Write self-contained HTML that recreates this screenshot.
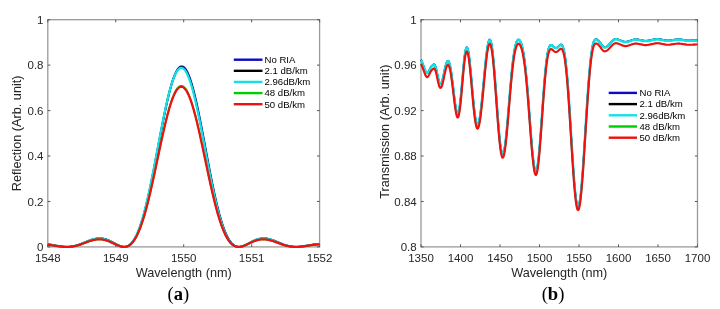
<!DOCTYPE html>
<html><head><meta charset="utf-8"><style>
html,body{margin:0;padding:0;background:#fff;}
body{width:720px;height:309px;overflow:hidden;}
svg{display:block;will-change:transform;}
.tl{font-family:"Liberation Sans",sans-serif;font-size:11.5px;fill:#262626;}
.al{font-family:"Liberation Sans",sans-serif;font-size:12.7px;fill:#262626;}
.lg{font-family:"Liberation Sans",sans-serif;font-size:9.6px;fill:#000;}
.cap{font-family:"Liberation Serif",serif;font-size:18.6px;fill:#000;}
.tk{stroke:#555;stroke-width:1;}
</style></head><body>
<svg width="720" height="309" viewBox="0 0 720 309">
<defs>
<clipPath id="ca"><rect x="47.8" y="19.7" width="271.8" height="227.20000000000002"/></clipPath>
<clipPath id="cb"><rect x="421.0" y="19.7" width="276.5" height="227.20000000000002"/></clipPath>
</defs>
<rect width="720" height="309" fill="#fff"/>
<rect x="47.8" y="19.7" width="271.8" height="227.20000000000002" fill="none" stroke="#9a9a9a" stroke-width="1.3"/>
<line x1="47.8" y1="246.9" x2="47.8" y2="244.3" class="tk"/><line x1="47.8" y1="19.7" x2="47.8" y2="22.3" class="tk"/>
<text x="47.8" y="262.2" text-anchor="middle" class="tl">1548</text>
<line x1="115.75" y1="246.9" x2="115.75" y2="244.3" class="tk"/><line x1="115.75" y1="19.7" x2="115.75" y2="22.3" class="tk"/>
<text x="115.75" y="262.2" text-anchor="middle" class="tl">1549</text>
<line x1="183.7" y1="246.9" x2="183.7" y2="244.3" class="tk"/><line x1="183.7" y1="19.7" x2="183.7" y2="22.3" class="tk"/>
<text x="183.7" y="262.2" text-anchor="middle" class="tl">1550</text>
<line x1="251.65000000000003" y1="246.9" x2="251.65000000000003" y2="244.3" class="tk"/><line x1="251.65000000000003" y1="19.7" x2="251.65000000000003" y2="22.3" class="tk"/>
<text x="251.65000000000003" y="262.2" text-anchor="middle" class="tl">1551</text>
<line x1="319.6" y1="246.9" x2="319.6" y2="244.3" class="tk"/><line x1="319.6" y1="19.7" x2="319.6" y2="22.3" class="tk"/>
<text x="319.6" y="262.2" text-anchor="middle" class="tl">1552</text>
<line x1="47.8" y1="246.9" x2="50.4" y2="246.9" class="tk"/><line x1="319.6" y1="246.9" x2="317.0" y2="246.9" class="tk"/>
<text x="43.5" y="251.20000000000002" text-anchor="end" class="tl">0</text>
<line x1="47.8" y1="201.46" x2="50.4" y2="201.46" class="tk"/><line x1="319.6" y1="201.46" x2="317.0" y2="201.46" class="tk"/>
<text x="43.5" y="205.76000000000002" text-anchor="end" class="tl">0.2</text>
<line x1="47.8" y1="156.01999999999998" x2="50.4" y2="156.01999999999998" class="tk"/><line x1="319.6" y1="156.01999999999998" x2="317.0" y2="156.01999999999998" class="tk"/>
<text x="43.5" y="160.32" text-anchor="end" class="tl">0.4</text>
<line x1="47.8" y1="110.58000000000001" x2="50.4" y2="110.58000000000001" class="tk"/><line x1="319.6" y1="110.58000000000001" x2="317.0" y2="110.58000000000001" class="tk"/>
<text x="43.5" y="114.88000000000001" text-anchor="end" class="tl">0.6</text>
<line x1="47.8" y1="65.13999999999999" x2="50.4" y2="65.13999999999999" class="tk"/><line x1="319.6" y1="65.13999999999999" x2="317.0" y2="65.13999999999999" class="tk"/>
<text x="43.5" y="69.43999999999998" text-anchor="end" class="tl">0.8</text>
<line x1="47.8" y1="19.69999999999999" x2="50.4" y2="19.69999999999999" class="tk"/><line x1="319.6" y1="19.69999999999999" x2="317.0" y2="19.69999999999999" class="tk"/>
<text x="43.5" y="23.99999999999999" text-anchor="end" class="tl">1</text>
<g fill="none" stroke-width="2" stroke-linejoin="round">
<path d="M47.80 244.36L48.3 244.4L48.8 244.5L49.3 244.6L49.8 244.6L50.3 244.7L50.8 244.8L51.3 244.8L51.8 244.9L52.3 245.0L52.8 245.1L53.3 245.2L53.8 245.3L54.3 245.4L54.8 245.4L55.3 245.5L55.8 245.6L56.3 245.7L56.8 245.8L57.3 245.9L57.8 246.0L58.3 246.1L58.8 246.1L59.3 246.2L59.8 246.3L60.3 246.4L60.8 246.4L61.3 246.5L61.8 246.6L62.3 246.6L62.8 246.7L63.3 246.7L63.8 246.8L64.3 246.8L64.8 246.8L65.3 246.9L65.8 246.9L66.3 246.9L66.8 246.9L67.3 246.9L67.8 246.9L68.3 246.9L68.8 246.9L69.3 246.8L69.8 246.8L70.3 246.8L70.8 246.7L71.3 246.6L71.8 246.6L72.3 246.5L72.8 246.4L73.3 246.3L73.8 246.2L74.3 246.1L74.8 246.0L75.3 245.9L75.8 245.8L76.3 245.6L76.8 245.5L77.3 245.3L77.8 245.2L78.3 245.0L78.8 244.9L79.3 244.7L79.8 244.5L80.3 244.3L80.8 244.2L81.3 244.0L81.8 243.8L82.3 243.6L82.8 243.4L83.3 243.2L83.8 243.0L84.3 242.8L84.8 242.5L85.3 242.3L85.8 242.1L86.3 241.9L86.8 241.7L87.3 241.5L87.8 241.3L88.3 241.1L88.8 240.9L89.3 240.7L89.8 240.5L90.3 240.3L90.8 240.2L91.3 240.0L91.8 239.8L92.3 239.7L92.8 239.5L93.3 239.4L93.8 239.2L94.3 239.1L94.8 239.0L95.3 238.9L95.8 238.8L96.3 238.7L96.8 238.6L97.3 238.5L97.8 238.5L98.3 238.4L98.8 238.4L99.3 238.4L99.8 238.4L100.3 238.4L100.8 238.4L101.3 238.4L101.8 238.5L102.3 238.6L102.8 238.6L103.3 238.7L103.8 238.8L104.3 238.9L104.8 239.0L105.3 239.2L105.8 239.3L106.3 239.5L106.8 239.7L107.3 239.9L107.8 240.0L108.3 240.2L108.8 240.5L109.3 240.7L109.8 240.9L110.3 241.2L110.8 241.4L111.3 241.7L111.8 241.9L112.3 242.2L112.8 242.4L113.3 242.7L113.8 243.0L114.3 243.2L114.8 243.5L115.3 243.8L115.8 244.0L116.3 244.3L116.8 244.6L117.3 244.8L117.8 245.1L118.3 245.3L118.8 245.5L119.3 245.7L119.8 245.9L120.3 246.1L120.8 246.3L121.3 246.4L121.8 246.6L122.3 246.7L122.8 246.8L123.3 246.8L123.8 246.9L124.3 246.9L124.8 246.9L125.3 246.9L125.8 246.8L126.3 246.7L126.8 246.6L127.3 246.4L127.8 246.2L128.3 246.0L128.8 245.7L129.3 245.4L129.8 245.0L130.3 244.6L130.8 244.2L131.3 243.7L131.8 243.1L132.3 242.6L132.8 241.9L133.3 241.3L133.8 240.5L134.3 239.8L134.8 238.9L135.3 238.1L135.8 237.1L136.3 236.2L136.8 235.1L137.3 234.0L137.8 232.9L138.3 231.7L138.8 230.5L139.3 229.1L139.8 227.8L140.3 226.4L140.8 224.9L141.3 223.4L141.8 221.8L142.3 220.2L142.8 218.5L143.3 216.7L143.8 215.0L144.3 213.1L144.8 211.2L145.3 209.3L145.8 207.3L146.3 205.3L146.8 203.2L147.3 201.0L147.8 198.9L148.3 196.6L148.8 194.4L149.3 192.1L149.8 189.7L150.3 187.4L150.8 185.0L151.3 182.5L151.8 180.0L152.3 177.5L152.8 175.0L153.3 172.5L153.8 169.9L154.3 167.3L154.8 164.7L155.3 162.0L155.8 159.4L156.3 156.7L156.8 154.1L157.3 151.4L157.8 148.7L158.3 146.1L158.8 143.4L159.3 140.7L159.8 138.1L160.3 135.4L160.8 132.8L161.3 130.2L161.8 127.6L162.3 125.0L162.8 122.4L163.3 119.9L163.8 117.4L164.3 114.9L164.8 112.5L165.3 110.1L165.8 107.7L166.3 105.4L166.8 103.1L167.3 100.9L167.8 98.7L168.3 96.6L168.8 94.6L169.3 92.5L169.8 90.6L170.3 88.7L170.8 86.9L171.3 85.1L171.8 83.4L172.3 81.8L172.8 80.3L173.3 78.8L173.8 77.4L174.3 76.1L174.8 74.8L175.3 73.7L175.8 72.6L176.3 71.6L176.8 70.7L177.3 69.9L177.8 69.1L178.3 68.5L178.8 67.9L179.3 67.4L179.8 67.0L180.3 66.7L180.8 66.5L181.3 66.4L181.8 66.4L182.3 66.5L182.8 66.6L183.3 66.9L183.8 67.2L184.3 67.6L184.8 68.1L185.3 68.7L185.8 69.4L186.3 70.2L186.8 71.0L187.3 72.0L187.8 73.0L188.3 74.1L188.8 75.3L189.3 76.6L189.8 77.9L190.3 79.4L190.8 80.9L191.3 82.5L191.8 84.1L192.3 85.8L192.8 87.6L193.3 89.5L193.8 91.4L194.3 93.3L194.8 95.4L195.3 97.5L195.8 99.6L196.3 101.8L196.8 104.0L197.3 106.3L197.8 108.7L198.3 111.0L198.8 113.5L199.3 115.9L199.8 118.4L200.3 120.9L200.8 123.4L201.3 126.0L201.8 128.6L202.3 131.2L202.8 133.8L203.3 136.5L203.8 139.1L204.3 141.8L204.8 144.5L205.3 147.1L205.8 149.8L206.3 152.5L206.8 155.1L207.3 157.8L207.8 160.5L208.3 163.1L208.8 165.7L209.3 168.3L209.8 170.9L210.3 173.5L210.8 176.0L211.3 178.5L211.8 181.0L212.3 183.5L212.8 185.9L213.3 188.3L213.8 190.7L214.3 193.0L214.8 195.3L215.3 197.5L215.8 199.7L216.3 201.9L216.8 204.0L217.3 206.1L217.8 208.1L218.3 210.1L218.8 212.0L219.3 213.9L219.8 215.7L220.3 217.4L220.8 219.2L221.3 220.8L221.8 222.4L222.3 224.0L222.8 225.5L223.3 226.9L223.8 228.3L224.3 229.7L224.8 231.0L225.3 232.2L225.8 233.4L226.3 234.5L226.8 235.5L227.3 236.6L227.8 237.5L228.3 238.4L228.8 239.3L229.3 240.1L229.8 240.8L230.3 241.5L230.8 242.2L231.3 242.8L231.8 243.4L232.3 243.9L232.8 244.3L233.3 244.8L233.8 245.2L234.3 245.5L234.8 245.8L235.3 246.1L235.8 246.3L236.3 246.5L236.8 246.6L237.3 246.7L237.8 246.8L238.3 246.9L238.8 246.9L239.3 246.9L239.8 246.9L240.3 246.8L240.8 246.7L241.3 246.6L241.8 246.5L242.3 246.4L242.8 246.2L243.3 246.0L243.8 245.8L244.3 245.6L244.8 245.4L245.3 245.2L245.8 245.0L246.3 244.7L246.8 244.5L247.3 244.2L247.8 243.9L248.3 243.7L248.8 243.4L249.3 243.1L249.8 242.9L250.3 242.6L250.8 242.3L251.3 242.1L251.8 241.8L252.3 241.6L252.8 241.3L253.3 241.1L253.8 240.8L254.3 240.6L254.8 240.4L255.3 240.2L255.8 240.0L256.3 239.8L256.8 239.6L257.3 239.4L257.8 239.3L258.3 239.1L258.8 239.0L259.3 238.9L259.8 238.8L260.3 238.7L260.8 238.6L261.3 238.5L261.8 238.5L262.3 238.4L262.8 238.4L263.3 238.4L263.8 238.4L264.3 238.4L264.8 238.4L265.3 238.4L265.8 238.5L266.3 238.6L266.8 238.6L267.3 238.7L267.8 238.8L268.3 238.9L268.8 239.0L269.3 239.1L269.8 239.3L270.3 239.4L270.8 239.6L271.3 239.7L271.8 239.9L272.3 240.0L272.8 240.2L273.3 240.4L273.8 240.6L274.3 240.8L274.8 241.0L275.3 241.2L275.8 241.4L276.3 241.6L276.8 241.8L277.3 242.0L277.8 242.2L278.3 242.4L278.8 242.6L279.3 242.8L279.8 243.0L280.3 243.2L280.8 243.4L281.3 243.6L281.8 243.8L282.3 244.0L282.8 244.2L283.3 244.4L283.8 244.6L284.3 244.8L284.8 244.9L285.3 245.1L285.8 245.3L286.3 245.4L286.8 245.6L287.3 245.7L287.8 245.8L288.3 245.9L288.8 246.1L289.3 246.2L289.8 246.3L290.3 246.4L290.8 246.5L291.3 246.5L291.8 246.6L292.3 246.7L292.8 246.7L293.3 246.8L293.8 246.8L294.3 246.8L294.8 246.9L295.3 246.9L295.8 246.9L296.3 246.9L296.8 246.9L297.3 246.9L297.8 246.9L298.3 246.8L298.8 246.8L299.3 246.8L299.8 246.7L300.3 246.7L300.8 246.6L301.3 246.6L301.8 246.5L302.3 246.5L302.8 246.4L303.3 246.3L303.8 246.3L304.3 246.2L304.8 246.1L305.3 246.0L305.8 245.9L306.3 245.8L306.8 245.8L307.3 245.7L307.8 245.6L308.3 245.5L308.8 245.4L309.3 245.3L309.8 245.2L310.3 245.1L310.8 245.1L311.3 245.0L311.8 244.9L312.3 244.8L312.8 244.7L313.3 244.7L313.8 244.6L314.3 244.5L314.8 244.5L315.3 244.4L315.8 244.3L316.3 244.3L316.8 244.2L317.3 244.2L317.8 244.1L318.3 244.1L318.8 244.1L319.3 244.0" stroke="#0a0ac8" stroke-width="2.0"/>
<path d="M47.80 244.39L48.3 244.5L48.8 244.5L49.3 244.6L49.8 244.7L50.3 244.7L50.8 244.8L51.3 244.9L51.8 245.0L52.3 245.1L52.8 245.1L53.3 245.2L53.8 245.3L54.3 245.4L54.8 245.5L55.3 245.6L55.8 245.7L56.3 245.8L56.8 245.8L57.3 245.9L57.8 246.0L58.3 246.1L58.8 246.2L59.3 246.2L59.8 246.3L60.3 246.4L60.8 246.5L61.3 246.5L61.8 246.6L62.3 246.6L62.8 246.7L63.3 246.7L63.8 246.8L64.3 246.8L64.8 246.8L65.3 246.9L65.8 246.9L66.3 246.9L66.8 246.9L67.3 246.9L67.8 246.9L68.3 246.9L68.8 246.8L69.3 246.8L69.8 246.8L70.3 246.7L70.8 246.7L71.3 246.6L71.8 246.5L72.3 246.5L72.8 246.4L73.3 246.3L73.8 246.2L74.3 246.1L74.8 246.0L75.3 245.9L75.8 245.7L76.3 245.6L76.8 245.4L77.3 245.3L77.8 245.1L78.3 245.0L78.8 244.8L79.3 244.6L79.8 244.5L80.3 244.3L80.8 244.1L81.3 243.9L81.8 243.7L82.3 243.5L82.8 243.3L83.3 243.1L83.8 242.9L84.3 242.7L84.8 242.5L85.3 242.3L85.8 242.1L86.3 241.9L86.8 241.7L87.3 241.4L87.8 241.2L88.3 241.0L88.8 240.9L89.3 240.7L89.8 240.5L90.3 240.3L90.8 240.1L91.3 239.9L91.8 239.8L92.3 239.6L92.8 239.5L93.3 239.3L93.8 239.2L94.3 239.1L94.8 239.0L95.3 238.9L95.8 238.8L96.3 238.7L96.8 238.6L97.3 238.5L97.8 238.5L98.3 238.5L98.8 238.4L99.3 238.4L99.8 238.4L100.3 238.4L100.8 238.5L101.3 238.5L101.8 238.6L102.3 238.6L102.8 238.7L103.3 238.8L103.8 238.9L104.3 239.0L104.8 239.1L105.3 239.3L105.8 239.4L106.3 239.6L106.8 239.8L107.3 240.0L107.8 240.2L108.3 240.4L108.8 240.6L109.3 240.8L109.8 241.0L110.3 241.3L110.8 241.5L111.3 241.8L111.8 242.0L112.3 242.3L112.8 242.6L113.3 242.8L113.8 243.1L114.3 243.4L114.8 243.6L115.3 243.9L115.8 244.2L116.3 244.4L116.8 244.7L117.3 244.9L117.8 245.2L118.3 245.4L118.8 245.6L119.3 245.8L119.8 246.0L120.3 246.2L120.8 246.3L121.3 246.5L121.8 246.6L122.3 246.7L122.8 246.8L123.3 246.9L123.8 246.9L124.3 246.9L124.8 246.9L125.3 246.8L125.8 246.8L126.3 246.6L126.8 246.5L127.3 246.3L127.8 246.1L128.3 245.9L128.8 245.6L129.3 245.2L129.8 244.9L130.3 244.4L130.8 244.0L131.3 243.5L131.8 242.9L132.3 242.3L132.8 241.7L133.3 241.0L133.8 240.3L134.3 239.5L134.8 238.6L135.3 237.7L135.8 236.8L136.3 235.8L136.8 234.8L137.3 233.6L137.8 232.5L138.3 231.3L138.8 230.0L139.3 228.7L139.8 227.3L140.3 225.9L140.8 224.4L141.3 222.9L141.8 221.3L142.3 219.6L142.8 217.9L143.3 216.2L143.8 214.4L144.3 212.5L144.8 210.6L145.3 208.7L145.8 206.7L146.3 204.6L146.8 202.5L147.3 200.4L147.8 198.2L148.3 196.0L148.8 193.7L149.3 191.4L149.8 189.1L150.3 186.7L150.8 184.3L151.3 181.8L151.8 179.3L152.3 176.8L152.8 174.3L153.3 171.8L153.8 169.2L154.3 166.6L154.8 164.0L155.3 161.4L155.8 158.7L156.3 156.1L156.8 153.4L157.3 150.8L157.8 148.1L158.3 145.5L158.8 142.8L159.3 140.1L159.8 137.5L160.3 134.9L160.8 132.2L161.3 129.6L161.8 127.1L162.3 124.5L162.8 122.0L163.3 119.5L163.8 117.0L164.3 114.5L164.8 112.1L165.3 109.7L165.8 107.4L166.3 105.1L166.8 102.9L167.3 100.7L167.8 98.5L168.3 96.5L168.8 94.4L169.3 92.4L169.8 90.5L170.3 88.7L170.8 86.9L171.3 85.2L171.8 83.5L172.3 81.9L172.8 80.4L173.3 79.0L173.8 77.6L174.3 76.3L174.8 75.1L175.3 74.0L175.8 73.0L176.3 72.0L176.8 71.1L177.3 70.3L177.8 69.6L178.3 69.0L178.8 68.5L179.3 68.1L179.8 67.7L180.3 67.4L180.8 67.3L181.3 67.2L181.8 67.2L182.3 67.3L182.8 67.5L183.3 67.8L183.8 68.1L184.3 68.6L184.8 69.1L185.3 69.8L185.8 70.5L186.3 71.3L186.8 72.2L187.3 73.2L187.8 74.2L188.3 75.4L188.8 76.6L189.3 77.9L189.8 79.3L190.3 80.7L190.8 82.2L191.3 83.8L191.8 85.5L192.3 87.2L192.8 89.0L193.3 90.9L193.8 92.8L194.3 94.8L194.8 96.9L195.3 99.0L195.8 101.1L196.3 103.3L196.8 105.6L197.3 107.9L197.8 110.2L198.3 112.6L198.8 115.0L199.3 117.5L199.8 120.0L200.3 122.5L200.8 125.0L201.3 127.6L201.8 130.2L202.3 132.8L202.8 135.4L203.3 138.0L203.8 140.7L204.3 143.3L204.8 146.0L205.3 148.6L205.8 151.3L206.3 154.0L206.8 156.6L207.3 159.3L207.8 161.9L208.3 164.5L208.8 167.1L209.3 169.7L209.8 172.3L210.3 174.8L210.8 177.3L211.3 179.8L211.8 182.3L212.3 184.7L212.8 187.2L213.3 189.5L213.8 191.9L214.3 194.2L214.8 196.4L215.3 198.6L215.8 200.8L216.3 202.9L216.8 205.0L217.3 207.1L217.8 209.1L218.3 211.0L218.8 212.9L219.3 214.7L219.8 216.5L220.3 218.3L220.8 220.0L221.3 221.6L221.8 223.2L222.3 224.7L222.8 226.2L223.3 227.6L223.8 229.0L224.3 230.3L224.8 231.5L225.3 232.7L225.8 233.9L226.3 235.0L226.8 236.0L227.3 237.0L227.8 237.9L228.3 238.8L228.8 239.6L229.3 240.4L229.8 241.2L230.3 241.8L230.8 242.5L231.3 243.0L231.8 243.6L232.3 244.1L232.8 244.5L233.3 244.9L233.8 245.3L234.3 245.6L234.8 245.9L235.3 246.1L235.8 246.4L236.3 246.5L236.8 246.7L237.3 246.8L237.8 246.8L238.3 246.9L238.8 246.9L239.3 246.9L239.8 246.8L240.3 246.8L240.8 246.7L241.3 246.6L241.8 246.5L242.3 246.3L242.8 246.1L243.3 246.0L243.8 245.8L244.3 245.6L244.8 245.3L245.3 245.1L245.8 244.9L246.3 244.6L246.8 244.4L247.3 244.1L247.8 243.8L248.3 243.6L248.8 243.3L249.3 243.0L249.8 242.8L250.3 242.5L250.8 242.2L251.3 242.0L251.8 241.7L252.3 241.5L252.8 241.2L253.3 241.0L253.8 240.8L254.3 240.5L254.8 240.3L255.3 240.1L255.8 239.9L256.3 239.7L256.8 239.6L257.3 239.4L257.8 239.2L258.3 239.1L258.8 239.0L259.3 238.9L259.8 238.8L260.3 238.7L260.8 238.6L261.3 238.5L261.8 238.5L262.3 238.5L262.8 238.4L263.3 238.4L263.8 238.4L264.3 238.4L264.8 238.5L265.3 238.5L265.8 238.6L266.3 238.6L266.8 238.7L267.3 238.8L267.8 238.9L268.3 239.0L268.8 239.1L269.3 239.2L269.8 239.4L270.3 239.5L270.8 239.7L271.3 239.8L271.8 240.0L272.3 240.1L272.8 240.3L273.3 240.5L273.8 240.7L274.3 240.9L274.8 241.1L275.3 241.3L275.8 241.5L276.3 241.7L276.8 241.9L277.3 242.1L277.8 242.3L278.3 242.5L278.8 242.7L279.3 242.9L279.8 243.1L280.3 243.3L280.8 243.5L281.3 243.7L281.8 243.9L282.3 244.1L282.8 244.3L283.3 244.5L283.8 244.7L284.3 244.8L284.8 245.0L285.3 245.2L285.8 245.3L286.3 245.5L286.8 245.6L287.3 245.8L287.8 245.9L288.3 246.0L288.8 246.1L289.3 246.2L289.8 246.3L290.3 246.4L290.8 246.5L291.3 246.6L291.8 246.6L292.3 246.7L292.8 246.7L293.3 246.8L293.8 246.8L294.3 246.9L294.8 246.9L295.3 246.9L295.8 246.9L296.3 246.9L296.8 246.9L297.3 246.9L297.8 246.9L298.3 246.8L298.8 246.8L299.3 246.8L299.8 246.7L300.3 246.7L300.8 246.6L301.3 246.6L301.8 246.5L302.3 246.4L302.8 246.4L303.3 246.3L303.8 246.2L304.3 246.2L304.8 246.1L305.3 246.0L305.8 245.9L306.3 245.8L306.8 245.7L307.3 245.6L307.8 245.6L308.3 245.5L308.8 245.4L309.3 245.3L309.8 245.2L310.3 245.1L310.8 245.0L311.3 245.0L311.8 244.9L312.3 244.8L312.8 244.7L313.3 244.6L313.8 244.6L314.3 244.5L314.8 244.4L315.3 244.4L315.8 244.3L316.3 244.3L316.8 244.2L317.3 244.2L317.8 244.1L318.3 244.1L318.8 244.1L319.3 244.0" stroke="#000000" stroke-width="1.8"/>
<path d="M47.80 244.43L48.3 244.5L48.8 244.6L49.3 244.6L49.8 244.7L50.3 244.8L50.8 244.9L51.3 244.9L51.8 245.0L52.3 245.1L52.8 245.2L53.3 245.3L53.8 245.4L54.3 245.4L54.8 245.5L55.3 245.6L55.8 245.7L56.3 245.8L56.8 245.9L57.3 246.0L57.8 246.0L58.3 246.1L58.8 246.2L59.3 246.3L59.8 246.3L60.3 246.4L60.8 246.5L61.3 246.5L61.8 246.6L62.3 246.7L62.8 246.7L63.3 246.8L63.8 246.8L64.3 246.8L64.8 246.9L65.3 246.9L65.8 246.9L66.3 246.9L66.8 246.9L67.3 246.9L67.8 246.9L68.3 246.9L68.8 246.8L69.3 246.8L69.8 246.8L70.3 246.7L70.8 246.7L71.3 246.6L71.8 246.5L72.3 246.4L72.8 246.4L73.3 246.3L73.8 246.2L74.3 246.0L74.8 245.9L75.3 245.8L75.8 245.7L76.3 245.5L76.8 245.4L77.3 245.2L77.8 245.1L78.3 244.9L78.8 244.8L79.3 244.6L79.8 244.4L80.3 244.2L80.8 244.0L81.3 243.8L81.8 243.6L82.3 243.4L82.8 243.2L83.3 243.0L83.8 242.8L84.3 242.6L84.8 242.4L85.3 242.2L85.8 242.0L86.3 241.8L86.8 241.6L87.3 241.4L87.8 241.2L88.3 241.0L88.8 240.8L89.3 240.6L89.8 240.4L90.3 240.2L90.8 240.1L91.3 239.9L91.8 239.7L92.3 239.6L92.8 239.4L93.3 239.3L93.8 239.2L94.3 239.1L94.8 238.9L95.3 238.8L95.8 238.8L96.3 238.7L96.8 238.6L97.3 238.6L97.8 238.5L98.3 238.5L98.8 238.5L99.3 238.5L99.8 238.5L100.3 238.5L100.8 238.5L101.3 238.5L101.8 238.6L102.3 238.7L102.8 238.8L103.3 238.9L103.8 239.0L104.3 239.1L104.8 239.2L105.3 239.4L105.8 239.5L106.3 239.7L106.8 239.9L107.3 240.1L107.8 240.3L108.3 240.5L108.8 240.7L109.3 240.9L109.8 241.2L110.3 241.4L110.8 241.6L111.3 241.9L111.8 242.2L112.3 242.4L112.8 242.7L113.3 243.0L113.8 243.2L114.3 243.5L114.8 243.8L115.3 244.0L115.8 244.3L116.3 244.5L116.8 244.8L117.3 245.0L117.8 245.3L118.3 245.5L118.8 245.7L119.3 245.9L119.8 246.1L120.3 246.3L120.8 246.4L121.3 246.5L121.8 246.7L122.3 246.8L122.8 246.8L123.3 246.9L123.8 246.9L124.3 246.9L124.8 246.9L125.3 246.8L125.8 246.7L126.3 246.6L126.8 246.4L127.3 246.2L127.8 246.0L128.3 245.7L128.8 245.4L129.3 245.1L129.8 244.7L130.3 244.3L130.8 243.8L131.3 243.3L131.8 242.7L132.3 242.1L132.8 241.4L133.3 240.7L133.8 240.0L134.3 239.2L134.8 238.3L135.3 237.4L135.8 236.4L136.3 235.4L136.8 234.4L137.3 233.2L137.8 232.1L138.3 230.8L138.8 229.6L139.3 228.2L139.8 226.8L140.3 225.4L140.8 223.9L141.3 222.3L141.8 220.7L142.3 219.1L142.8 217.3L143.3 215.6L143.8 213.8L144.3 211.9L144.8 210.0L145.3 208.0L145.8 206.0L146.3 203.9L146.8 201.8L147.3 199.7L147.8 197.5L148.3 195.3L148.8 193.0L149.3 190.7L149.8 188.3L150.3 185.9L150.8 183.5L151.3 181.1L151.8 178.6L152.3 176.1L152.8 173.6L153.3 171.0L153.8 168.5L154.3 165.9L154.8 163.3L155.3 160.6L155.8 158.0L156.3 155.4L156.8 152.7L157.3 150.1L157.8 147.4L158.3 144.8L158.8 142.1L159.3 139.5L159.8 136.9L160.3 134.2L160.8 131.6L161.3 129.1L161.8 126.5L162.3 123.9L162.8 121.4L163.3 118.9L163.8 116.5L164.3 114.1L164.8 111.7L165.3 109.3L165.8 107.0L166.3 104.8L166.8 102.5L167.3 100.4L167.8 98.3L168.3 96.2L168.8 94.2L169.3 92.3L169.8 90.4L170.3 88.5L170.8 86.8L171.3 85.1L171.8 83.5L172.3 81.9L172.8 80.5L173.3 79.1L173.8 77.7L174.3 76.5L174.8 75.3L175.3 74.2L175.8 73.2L176.3 72.3L176.8 71.5L177.3 70.7L177.8 70.1L178.3 69.5L178.8 69.0L179.3 68.6L179.8 68.3L180.3 68.0L180.8 67.9L181.3 67.9L181.8 67.9L182.3 68.0L182.8 68.3L183.3 68.6L183.8 69.0L184.3 69.5L184.8 70.1L185.3 70.7L185.8 71.5L186.3 72.3L186.8 73.2L187.3 74.2L187.8 75.3L188.3 76.5L188.8 77.7L189.3 79.1L189.8 80.5L190.3 81.9L190.8 83.5L191.3 85.1L191.8 86.8L192.3 88.5L192.8 90.4L193.3 92.3L193.8 94.2L194.3 96.2L194.8 98.3L195.3 100.4L195.8 102.5L196.3 104.8L196.8 107.0L197.3 109.3L197.8 111.7L198.3 114.1L198.8 116.5L199.3 118.9L199.8 121.4L200.3 123.9L200.8 126.5L201.3 129.1L201.8 131.6L202.3 134.2L202.8 136.9L203.3 139.5L203.8 142.1L204.3 144.8L204.8 147.4L205.3 150.1L205.8 152.7L206.3 155.4L206.8 158.0L207.3 160.6L207.8 163.3L208.3 165.9L208.8 168.5L209.3 171.0L209.8 173.6L210.3 176.1L210.8 178.6L211.3 181.1L211.8 183.5L212.3 185.9L212.8 188.3L213.3 190.7L213.8 193.0L214.3 195.3L214.8 197.5L215.3 199.7L215.8 201.8L216.3 203.9L216.8 206.0L217.3 208.0L217.8 210.0L218.3 211.9L218.8 213.8L219.3 215.6L219.8 217.3L220.3 219.1L220.8 220.7L221.3 222.3L221.8 223.9L222.3 225.4L222.8 226.8L223.3 228.2L223.8 229.6L224.3 230.8L224.8 232.1L225.3 233.2L225.8 234.4L226.3 235.4L226.8 236.4L227.3 237.4L227.8 238.3L228.3 239.2L228.8 240.0L229.3 240.7L229.8 241.4L230.3 242.1L230.8 242.7L231.3 243.3L231.8 243.8L232.3 244.3L232.8 244.7L233.3 245.1L233.8 245.4L234.3 245.7L234.8 246.0L235.3 246.2L235.8 246.4L236.3 246.6L236.8 246.7L237.3 246.8L237.8 246.9L238.3 246.9L238.8 246.9L239.3 246.9L239.8 246.8L240.3 246.8L240.8 246.7L241.3 246.5L241.8 246.4L242.3 246.3L242.8 246.1L243.3 245.9L243.8 245.7L244.3 245.5L244.8 245.3L245.3 245.0L245.8 244.8L246.3 244.5L246.8 244.3L247.3 244.0L247.8 243.8L248.3 243.5L248.8 243.2L249.3 243.0L249.8 242.7L250.3 242.4L250.8 242.2L251.3 241.9L251.8 241.6L252.3 241.4L252.8 241.2L253.3 240.9L253.8 240.7L254.3 240.5L254.8 240.3L255.3 240.1L255.8 239.9L256.3 239.7L256.8 239.5L257.3 239.4L257.8 239.2L258.3 239.1L258.8 239.0L259.3 238.9L259.8 238.8L260.3 238.7L260.8 238.6L261.3 238.5L261.8 238.5L262.3 238.5L262.8 238.5L263.3 238.5L263.8 238.5L264.3 238.5L264.8 238.5L265.3 238.6L265.8 238.6L266.3 238.7L266.8 238.8L267.3 238.8L267.8 238.9L268.3 239.1L268.8 239.2L269.3 239.3L269.8 239.4L270.3 239.6L270.8 239.7L271.3 239.9L271.8 240.1L272.3 240.2L272.8 240.4L273.3 240.6L273.8 240.8L274.3 241.0L274.8 241.2L275.3 241.4L275.8 241.6L276.3 241.8L276.8 242.0L277.3 242.2L277.8 242.4L278.3 242.6L278.8 242.8L279.3 243.0L279.8 243.2L280.3 243.4L280.8 243.6L281.3 243.8L281.8 244.0L282.3 244.2L282.8 244.4L283.3 244.6L283.8 244.8L284.3 244.9L284.8 245.1L285.3 245.2L285.8 245.4L286.3 245.5L286.8 245.7L287.3 245.8L287.8 245.9L288.3 246.0L288.8 246.2L289.3 246.3L289.8 246.4L290.3 246.4L290.8 246.5L291.3 246.6L291.8 246.7L292.3 246.7L292.8 246.8L293.3 246.8L293.8 246.8L294.3 246.9L294.8 246.9L295.3 246.9L295.8 246.9L296.3 246.9L296.8 246.9L297.3 246.9L297.8 246.9L298.3 246.8L298.8 246.8L299.3 246.8L299.8 246.7L300.3 246.7L300.8 246.6L301.3 246.5L301.8 246.5L302.3 246.4L302.8 246.3L303.3 246.3L303.8 246.2L304.3 246.1L304.8 246.0L305.3 246.0L305.8 245.9L306.3 245.8L306.8 245.7L307.3 245.6L307.8 245.5L308.3 245.4L308.8 245.4L309.3 245.3L309.8 245.2L310.3 245.1L310.8 245.0L311.3 244.9L311.8 244.9L312.3 244.8L312.8 244.7L313.3 244.6L313.8 244.6L314.3 244.5L314.8 244.4L315.3 244.4L315.8 244.3L316.3 244.3L316.8 244.2L317.3 244.2L317.8 244.1L318.3 244.1L318.8 244.1L319.3 244.0" stroke="#14e0e6" stroke-width="2.3"/>
<path d="M47.80 244.67L48.3 244.7L48.8 244.8L49.3 244.9L49.8 244.9L50.3 245.0L50.8 245.1L51.3 245.1L51.8 245.2L52.3 245.3L52.8 245.4L53.3 245.4L53.8 245.5L54.3 245.6L54.8 245.7L55.3 245.7L55.8 245.8L56.3 245.9L56.8 246.0L57.3 246.1L57.8 246.1L58.3 246.2L58.8 246.3L59.3 246.3L59.8 246.4L60.3 246.5L60.8 246.5L61.3 246.6L61.8 246.6L62.3 246.7L62.8 246.7L63.3 246.8L63.8 246.8L64.3 246.8L64.8 246.9L65.3 246.9L65.8 246.9L66.3 246.9L66.8 246.9L67.3 246.9L67.8 246.9L68.3 246.9L68.8 246.8L69.3 246.8L69.8 246.8L70.3 246.7L70.8 246.7L71.3 246.6L71.8 246.6L72.3 246.5L72.8 246.4L73.3 246.3L73.8 246.2L74.3 246.1L74.8 246.0L75.3 245.9L75.8 245.8L76.3 245.7L76.8 245.5L77.3 245.4L77.8 245.3L78.3 245.1L78.8 245.0L79.3 244.8L79.8 244.6L80.3 244.5L80.8 244.3L81.3 244.1L81.8 244.0L82.3 243.8L82.8 243.6L83.3 243.4L83.8 243.2L84.3 243.1L84.8 242.9L85.3 242.7L85.8 242.5L86.3 242.3L86.8 242.1L87.3 241.9L87.8 241.8L88.3 241.6L88.8 241.4L89.3 241.2L89.8 241.1L90.3 240.9L90.8 240.8L91.3 240.6L91.8 240.5L92.3 240.3L92.8 240.2L93.3 240.1L93.8 240.0L94.3 239.8L94.8 239.7L95.3 239.7L95.8 239.6L96.3 239.5L96.8 239.4L97.3 239.4L97.8 239.4L98.3 239.3L98.8 239.3L99.3 239.3L99.8 239.3L100.3 239.3L100.8 239.3L101.3 239.4L101.8 239.4L102.3 239.5L102.8 239.6L103.3 239.7L103.8 239.8L104.3 239.9L104.8 240.0L105.3 240.1L105.8 240.3L106.3 240.4L106.8 240.6L107.3 240.7L107.8 240.9L108.3 241.1L108.8 241.3L109.3 241.5L109.8 241.7L110.3 241.9L110.8 242.2L111.3 242.4L111.8 242.6L112.3 242.9L112.8 243.1L113.3 243.3L113.8 243.6L114.3 243.8L114.8 244.1L115.3 244.3L115.8 244.5L116.3 244.8L116.8 245.0L117.3 245.2L117.8 245.4L118.3 245.6L118.8 245.8L119.3 246.0L119.8 246.2L120.3 246.3L120.8 246.5L121.3 246.6L121.8 246.7L122.3 246.8L122.8 246.8L123.3 246.9L123.8 246.9L124.3 246.9L124.8 246.9L125.3 246.8L125.8 246.7L126.3 246.6L126.8 246.5L127.3 246.3L127.8 246.1L128.3 245.9L128.8 245.6L129.3 245.3L129.8 244.9L130.3 244.5L130.8 244.1L131.3 243.6L131.8 243.1L132.3 242.6L132.8 242.0L133.3 241.4L133.8 240.7L134.3 240.0L134.8 239.2L135.3 238.4L135.8 237.5L136.3 236.6L136.8 235.6L137.3 234.6L137.8 233.6L138.3 232.4L138.8 231.3L139.3 230.1L139.8 228.8L140.3 227.5L140.8 226.2L141.3 224.8L141.8 223.3L142.3 221.8L142.8 220.3L143.3 218.7L143.8 217.1L144.3 215.4L144.8 213.7L145.3 211.9L145.8 210.1L146.3 208.2L146.8 206.4L147.3 204.4L147.8 202.4L148.3 200.4L148.8 198.4L149.3 196.3L149.8 194.2L150.3 192.1L150.8 189.9L151.3 187.7L151.8 185.5L152.3 183.2L152.8 180.9L153.3 178.6L153.8 176.3L154.3 174.0L154.8 171.6L155.3 169.3L155.8 166.9L156.3 164.5L156.8 162.2L157.3 159.8L157.8 157.4L158.3 155.0L158.8 152.6L159.3 150.3L159.8 147.9L160.3 145.5L160.8 143.2L161.3 140.9L161.8 138.6L162.3 136.3L162.8 134.0L163.3 131.8L163.8 129.6L164.3 127.4L164.8 125.2L165.3 123.1L165.8 121.0L166.3 119.0L166.8 117.0L167.3 115.1L167.8 113.2L168.3 111.3L168.8 109.5L169.3 107.8L169.8 106.1L170.3 104.4L170.8 102.8L171.3 101.3L171.8 99.9L172.3 98.5L172.8 97.1L173.3 95.9L173.8 94.7L174.3 93.6L174.8 92.5L175.3 91.5L175.8 90.6L176.3 89.8L176.8 89.1L177.3 88.4L177.8 87.8L178.3 87.3L178.8 86.8L179.3 86.5L179.8 86.2L180.3 86.0L180.8 85.9L181.3 85.8L181.8 85.9L182.3 86.0L182.8 86.2L183.3 86.5L183.8 86.8L184.3 87.3L184.8 87.8L185.3 88.4L185.8 89.1L186.3 89.8L186.8 90.6L187.3 91.5L187.8 92.5L188.3 93.6L188.8 94.7L189.3 95.9L189.8 97.1L190.3 98.5L190.8 99.9L191.3 101.3L191.8 102.8L192.3 104.4L192.8 106.1L193.3 107.8L193.8 109.5L194.3 111.3L194.8 113.2L195.3 115.1L195.8 117.0L196.3 119.0L196.8 121.0L197.3 123.1L197.8 125.2L198.3 127.4L198.8 129.6L199.3 131.8L199.8 134.0L200.3 136.3L200.8 138.6L201.3 140.9L201.8 143.2L202.3 145.5L202.8 147.9L203.3 150.3L203.8 152.6L204.3 155.0L204.8 157.4L205.3 159.8L205.8 162.2L206.3 164.5L206.8 166.9L207.3 169.3L207.8 171.6L208.3 174.0L208.8 176.3L209.3 178.6L209.8 180.9L210.3 183.2L210.8 185.5L211.3 187.7L211.8 189.9L212.3 192.1L212.8 194.2L213.3 196.3L213.8 198.4L214.3 200.4L214.8 202.4L215.3 204.4L215.8 206.4L216.3 208.2L216.8 210.1L217.3 211.9L217.8 213.7L218.3 215.4L218.8 217.1L219.3 218.7L219.8 220.3L220.3 221.8L220.8 223.3L221.3 224.8L221.8 226.2L222.3 227.5L222.8 228.8L223.3 230.1L223.8 231.3L224.3 232.4L224.8 233.6L225.3 234.6L225.8 235.6L226.3 236.6L226.8 237.5L227.3 238.4L227.8 239.2L228.3 240.0L228.8 240.7L229.3 241.4L229.8 242.0L230.3 242.6L230.8 243.1L231.3 243.6L231.8 244.1L232.3 244.5L232.8 244.9L233.3 245.3L233.8 245.6L234.3 245.9L234.8 246.1L235.3 246.3L235.8 246.5L236.3 246.6L236.8 246.7L237.3 246.8L237.8 246.9L238.3 246.9L238.8 246.9L239.3 246.9L239.8 246.8L240.3 246.8L240.8 246.7L241.3 246.6L241.8 246.5L242.3 246.3L242.8 246.2L243.3 246.0L243.8 245.8L244.3 245.6L244.8 245.4L245.3 245.2L245.8 245.0L246.3 244.8L246.8 244.5L247.3 244.3L247.8 244.1L248.3 243.8L248.8 243.6L249.3 243.3L249.8 243.1L250.3 242.9L250.8 242.6L251.3 242.4L251.8 242.2L252.3 241.9L252.8 241.7L253.3 241.5L253.8 241.3L254.3 241.1L254.8 240.9L255.3 240.7L255.8 240.6L256.3 240.4L256.8 240.3L257.3 240.1L257.8 240.0L258.3 239.9L258.8 239.8L259.3 239.7L259.8 239.6L260.3 239.5L260.8 239.4L261.3 239.4L261.8 239.3L262.3 239.3L262.8 239.3L263.3 239.3L263.8 239.3L264.3 239.3L264.8 239.4L265.3 239.4L265.8 239.4L266.3 239.5L266.8 239.6L267.3 239.7L267.8 239.7L268.3 239.8L268.8 240.0L269.3 240.1L269.8 240.2L270.3 240.3L270.8 240.5L271.3 240.6L271.8 240.8L272.3 240.9L272.8 241.1L273.3 241.2L273.8 241.4L274.3 241.6L274.8 241.8L275.3 241.9L275.8 242.1L276.3 242.3L276.8 242.5L277.3 242.7L277.8 242.9L278.3 243.1L278.8 243.2L279.3 243.4L279.8 243.6L280.3 243.8L280.8 244.0L281.3 244.1L281.8 244.3L282.3 244.5L282.8 244.6L283.3 244.8L283.8 245.0L284.3 245.1L284.8 245.3L285.3 245.4L285.8 245.5L286.3 245.7L286.8 245.8L287.3 245.9L287.8 246.0L288.3 246.1L288.8 246.2L289.3 246.3L289.8 246.4L290.3 246.5L290.8 246.6L291.3 246.6L291.8 246.7L292.3 246.7L292.8 246.8L293.3 246.8L293.8 246.8L294.3 246.9L294.8 246.9L295.3 246.9L295.8 246.9L296.3 246.9L296.8 246.9L297.3 246.9L297.8 246.9L298.3 246.8L298.8 246.8L299.3 246.8L299.8 246.7L300.3 246.7L300.8 246.6L301.3 246.6L301.8 246.5L302.3 246.5L302.8 246.4L303.3 246.3L303.8 246.3L304.3 246.2L304.8 246.1L305.3 246.1L305.8 246.0L306.3 245.9L306.8 245.8L307.3 245.7L307.8 245.7L308.3 245.6L308.8 245.5L309.3 245.4L309.8 245.4L310.3 245.3L310.8 245.2L311.3 245.1L311.8 245.1L312.3 245.0L312.8 244.9L313.3 244.9L313.8 244.8L314.3 244.7L314.8 244.7L315.3 244.6L315.8 244.6L316.3 244.5L316.8 244.5L317.3 244.4L317.8 244.4L318.3 244.4L318.8 244.3L319.3 244.3" stroke="#00cc00" stroke-width="1.8"/>
<path d="M47.80 244.69L48.3 244.7L48.8 244.8L49.3 244.9L49.8 244.9L50.3 245.0L50.8 245.1L51.3 245.1L51.8 245.2L52.3 245.3L52.8 245.4L53.3 245.4L53.8 245.5L54.3 245.6L54.8 245.7L55.3 245.8L55.8 245.8L56.3 245.9L56.8 246.0L57.3 246.1L57.8 246.1L58.3 246.2L58.8 246.3L59.3 246.3L59.8 246.4L60.3 246.5L60.8 246.5L61.3 246.6L61.8 246.6L62.3 246.7L62.8 246.7L63.3 246.8L63.8 246.8L64.3 246.8L64.8 246.9L65.3 246.9L65.8 246.9L66.3 246.9L66.8 246.9L67.3 246.9L67.8 246.9L68.3 246.9L68.8 246.8L69.3 246.8L69.8 246.8L70.3 246.7L70.8 246.7L71.3 246.6L71.8 246.6L72.3 246.5L72.8 246.4L73.3 246.3L73.8 246.2L74.3 246.1L74.8 246.0L75.3 245.9L75.8 245.8L76.3 245.7L76.8 245.6L77.3 245.4L77.8 245.3L78.3 245.1L78.8 245.0L79.3 244.8L79.8 244.7L80.3 244.5L80.8 244.3L81.3 244.2L81.8 244.0L82.3 243.8L82.8 243.6L83.3 243.4L83.8 243.3L84.3 243.1L84.8 242.9L85.3 242.7L85.8 242.5L86.3 242.3L86.8 242.2L87.3 242.0L87.8 241.8L88.3 241.6L88.8 241.4L89.3 241.3L89.8 241.1L90.3 240.9L90.8 240.8L91.3 240.6L91.8 240.5L92.3 240.4L92.8 240.2L93.3 240.1L93.8 240.0L94.3 239.9L94.8 239.8L95.3 239.7L95.8 239.6L96.3 239.5L96.8 239.5L97.3 239.4L97.8 239.4L98.3 239.4L98.8 239.3L99.3 239.3L99.8 239.3L100.3 239.4L100.8 239.4L101.3 239.4L101.8 239.5L102.3 239.5L102.8 239.6L103.3 239.7L103.8 239.8L104.3 239.9L104.8 240.0L105.3 240.2L105.8 240.3L106.3 240.5L106.8 240.6L107.3 240.8L107.8 241.0L108.3 241.1L108.8 241.3L109.3 241.5L109.8 241.8L110.3 242.0L110.8 242.2L111.3 242.4L111.8 242.7L112.3 242.9L112.8 243.1L113.3 243.4L113.8 243.6L114.3 243.8L114.8 244.1L115.3 244.3L115.8 244.6L116.3 244.8L116.8 245.0L117.3 245.2L117.8 245.4L118.3 245.6L118.8 245.8L119.3 246.0L119.8 246.2L120.3 246.3L120.8 246.5L121.3 246.6L121.8 246.7L122.3 246.8L122.8 246.8L123.3 246.9L123.8 246.9L124.3 246.9L124.8 246.9L125.3 246.8L125.8 246.7L126.3 246.6L126.8 246.5L127.3 246.3L127.8 246.1L128.3 245.9L128.8 245.6L129.3 245.3L129.8 244.9L130.3 244.6L130.8 244.1L131.3 243.7L131.8 243.2L132.3 242.6L132.8 242.0L133.3 241.4L133.8 240.7L134.3 240.0L134.8 239.2L135.3 238.4L135.8 237.5L136.3 236.6L136.8 235.7L137.3 234.7L137.8 233.6L138.3 232.5L138.8 231.4L139.3 230.2L139.8 228.9L140.3 227.6L140.8 226.3L141.3 224.9L141.8 223.5L142.3 222.0L142.8 220.5L143.3 218.9L143.8 217.3L144.3 215.6L144.8 213.9L145.3 212.1L145.8 210.3L146.3 208.5L146.8 206.6L147.3 204.7L147.8 202.7L148.3 200.7L148.8 198.7L149.3 196.6L149.8 194.5L150.3 192.4L150.8 190.2L151.3 188.0L151.8 185.8L152.3 183.6L152.8 181.3L153.3 179.0L153.8 176.7L154.3 174.4L154.8 172.1L155.3 169.7L155.8 167.4L156.3 165.0L156.8 162.6L157.3 160.3L157.8 157.9L158.3 155.5L158.8 153.2L159.3 150.8L159.8 148.5L160.3 146.1L160.8 143.8L161.3 141.5L161.8 139.2L162.3 136.9L162.8 134.6L163.3 132.4L163.8 130.2L164.3 128.1L164.8 125.9L165.3 123.8L165.8 121.8L166.3 119.7L166.8 117.7L167.3 115.8L167.8 113.9L168.3 112.1L168.8 110.3L169.3 108.5L169.8 106.9L170.3 105.2L170.8 103.7L171.3 102.1L171.8 100.7L172.3 99.3L172.8 98.0L173.3 96.7L173.8 95.6L174.3 94.4L174.8 93.4L175.3 92.4L175.8 91.5L176.3 90.7L176.8 89.9L177.3 89.3L177.8 88.7L178.3 88.2L178.8 87.7L179.3 87.4L179.8 87.1L180.3 86.9L180.8 86.8L181.3 86.7L181.8 86.8L182.3 86.9L182.8 87.1L183.3 87.4L183.8 87.7L184.3 88.2L184.8 88.7L185.3 89.3L185.8 89.9L186.3 90.7L186.8 91.5L187.3 92.4L187.8 93.4L188.3 94.4L188.8 95.6L189.3 96.7L189.8 98.0L190.3 99.3L190.8 100.7L191.3 102.1L191.8 103.7L192.3 105.2L192.8 106.9L193.3 108.5L193.8 110.3L194.3 112.1L194.8 113.9L195.3 115.8L195.8 117.7L196.3 119.7L196.8 121.8L197.3 123.8L197.8 125.9L198.3 128.1L198.8 130.2L199.3 132.4L199.8 134.6L200.3 136.9L200.8 139.2L201.3 141.5L201.8 143.8L202.3 146.1L202.8 148.5L203.3 150.8L203.8 153.2L204.3 155.5L204.8 157.9L205.3 160.3L205.8 162.6L206.3 165.0L206.8 167.4L207.3 169.7L207.8 172.1L208.3 174.4L208.8 176.7L209.3 179.0L209.8 181.3L210.3 183.6L210.8 185.8L211.3 188.0L211.8 190.2L212.3 192.4L212.8 194.5L213.3 196.6L213.8 198.7L214.3 200.7L214.8 202.7L215.3 204.7L215.8 206.6L216.3 208.5L216.8 210.3L217.3 212.1L217.8 213.9L218.3 215.6L218.8 217.3L219.3 218.9L219.8 220.5L220.3 222.0L220.8 223.5L221.3 224.9L221.8 226.3L222.3 227.6L222.8 228.9L223.3 230.2L223.8 231.4L224.3 232.5L224.8 233.6L225.3 234.7L225.8 235.7L226.3 236.6L226.8 237.5L227.3 238.4L227.8 239.2L228.3 240.0L228.8 240.7L229.3 241.4L229.8 242.0L230.3 242.6L230.8 243.2L231.3 243.7L231.8 244.1L232.3 244.6L232.8 244.9L233.3 245.3L233.8 245.6L234.3 245.9L234.8 246.1L235.3 246.3L235.8 246.5L236.3 246.6L236.8 246.7L237.3 246.8L237.8 246.9L238.3 246.9L238.8 246.9L239.3 246.9L239.8 246.8L240.3 246.8L240.8 246.7L241.3 246.6L241.8 246.5L242.3 246.3L242.8 246.2L243.3 246.0L243.8 245.8L244.3 245.6L244.8 245.4L245.3 245.2L245.8 245.0L246.3 244.8L246.8 244.6L247.3 244.3L247.8 244.1L248.3 243.8L248.8 243.6L249.3 243.4L249.8 243.1L250.3 242.9L250.8 242.7L251.3 242.4L251.8 242.2L252.3 242.0L252.8 241.8L253.3 241.5L253.8 241.3L254.3 241.1L254.8 241.0L255.3 240.8L255.8 240.6L256.3 240.5L256.8 240.3L257.3 240.2L257.8 240.0L258.3 239.9L258.8 239.8L259.3 239.7L259.8 239.6L260.3 239.5L260.8 239.5L261.3 239.4L261.8 239.4L262.3 239.4L262.8 239.3L263.3 239.3L263.8 239.3L264.3 239.4L264.8 239.4L265.3 239.4L265.8 239.5L266.3 239.5L266.8 239.6L267.3 239.7L267.8 239.8L268.3 239.9L268.8 240.0L269.3 240.1L269.8 240.2L270.3 240.4L270.8 240.5L271.3 240.6L271.8 240.8L272.3 240.9L272.8 241.1L273.3 241.3L273.8 241.4L274.3 241.6L274.8 241.8L275.3 242.0L275.8 242.2L276.3 242.3L276.8 242.5L277.3 242.7L277.8 242.9L278.3 243.1L278.8 243.3L279.3 243.4L279.8 243.6L280.3 243.8L280.8 244.0L281.3 244.2L281.8 244.3L282.3 244.5L282.8 244.7L283.3 244.8L283.8 245.0L284.3 245.1L284.8 245.3L285.3 245.4L285.8 245.6L286.3 245.7L286.8 245.8L287.3 245.9L287.8 246.0L288.3 246.1L288.8 246.2L289.3 246.3L289.8 246.4L290.3 246.5L290.8 246.6L291.3 246.6L291.8 246.7L292.3 246.7L292.8 246.8L293.3 246.8L293.8 246.8L294.3 246.9L294.8 246.9L295.3 246.9L295.8 246.9L296.3 246.9L296.8 246.9L297.3 246.9L297.8 246.9L298.3 246.8L298.8 246.8L299.3 246.8L299.8 246.7L300.3 246.7L300.8 246.6L301.3 246.6L301.8 246.5L302.3 246.5L302.8 246.4L303.3 246.3L303.8 246.3L304.3 246.2L304.8 246.1L305.3 246.1L305.8 246.0L306.3 245.9L306.8 245.8L307.3 245.8L307.8 245.7L308.3 245.6L308.8 245.5L309.3 245.4L309.8 245.4L310.3 245.3L310.8 245.2L311.3 245.1L311.8 245.1L312.3 245.0L312.8 244.9L313.3 244.9L313.8 244.8L314.3 244.7L314.8 244.7L315.3 244.6L315.8 244.6L316.3 244.5L316.8 244.5L317.3 244.5L317.8 244.4L318.3 244.4L318.8 244.4L319.3 244.3" stroke="#f01010" stroke-width="2.2"/>
</g>
<line x1="233.8" y1="59.7" x2="262.5" y2="59.7" stroke="#0a0ac8" stroke-width="2.4"/>
<text x="264.5" y="63.0" class="lg">No RIA</text>
<line x1="233.8" y1="70.825" x2="262.5" y2="70.825" stroke="#000000" stroke-width="2.4"/>
<text x="264.5" y="74.125" class="lg">2.1 dB/km</text>
<line x1="233.8" y1="81.95" x2="262.5" y2="81.95" stroke="#14e0e6" stroke-width="2.4"/>
<text x="264.5" y="85.25" class="lg">2.96dB/km</text>
<line x1="233.8" y1="93.075" x2="262.5" y2="93.075" stroke="#00cc00" stroke-width="2.4"/>
<text x="264.5" y="96.375" class="lg">48 dB/km</text>
<line x1="233.8" y1="104.2" x2="262.5" y2="104.2" stroke="#f01010" stroke-width="2.4"/>
<text x="264.5" y="107.5" class="lg">50 dB/km</text>
<text x="183.70000000000002" y="277.3" text-anchor="middle" class="al">Wavelength (nm)</text>
<text transform="translate(21.4,133.3) rotate(-90)" text-anchor="middle" class="al">Reflection (Arb. unit)</text>
<text x="178.4" y="299.5" text-anchor="middle" class="cap">(<tspan font-weight="bold">a</tspan>)</text>
<rect x="421.0" y="19.7" width="276.5" height="227.20000000000002" fill="none" stroke="#9a9a9a" stroke-width="1.3"/>
<line x1="421.0" y1="246.9" x2="421.0" y2="244.3" class="tk"/><line x1="421.0" y1="19.7" x2="421.0" y2="22.3" class="tk"/>
<text x="421.0" y="262.2" text-anchor="middle" class="tl">1350</text>
<line x1="460.5" y1="246.9" x2="460.5" y2="244.3" class="tk"/><line x1="460.5" y1="19.7" x2="460.5" y2="22.3" class="tk"/>
<text x="460.5" y="262.2" text-anchor="middle" class="tl">1400</text>
<line x1="500.0" y1="246.9" x2="500.0" y2="244.3" class="tk"/><line x1="500.0" y1="19.7" x2="500.0" y2="22.3" class="tk"/>
<text x="500.0" y="262.2" text-anchor="middle" class="tl">1450</text>
<line x1="539.5" y1="246.9" x2="539.5" y2="244.3" class="tk"/><line x1="539.5" y1="19.7" x2="539.5" y2="22.3" class="tk"/>
<text x="539.5" y="262.2" text-anchor="middle" class="tl">1500</text>
<line x1="579.0" y1="246.9" x2="579.0" y2="244.3" class="tk"/><line x1="579.0" y1="19.7" x2="579.0" y2="22.3" class="tk"/>
<text x="579.0" y="262.2" text-anchor="middle" class="tl">1550</text>
<line x1="618.5" y1="246.9" x2="618.5" y2="244.3" class="tk"/><line x1="618.5" y1="19.7" x2="618.5" y2="22.3" class="tk"/>
<text x="618.5" y="262.2" text-anchor="middle" class="tl">1600</text>
<line x1="658.0" y1="246.9" x2="658.0" y2="244.3" class="tk"/><line x1="658.0" y1="19.7" x2="658.0" y2="22.3" class="tk"/>
<text x="658.0" y="262.2" text-anchor="middle" class="tl">1650</text>
<line x1="697.5" y1="246.9" x2="697.5" y2="244.3" class="tk"/><line x1="697.5" y1="19.7" x2="697.5" y2="22.3" class="tk"/>
<text x="697.5" y="262.2" text-anchor="middle" class="tl">1700</text>
<line x1="421.0" y1="246.9" x2="423.6" y2="246.9" class="tk"/><line x1="697.5" y1="246.9" x2="694.9" y2="246.9" class="tk"/>
<text x="416.7" y="251.20000000000002" text-anchor="end" class="tl">0.8</text>
<line x1="421.0" y1="201.4600000000001" x2="423.6" y2="201.4600000000001" class="tk"/><line x1="697.5" y1="201.4600000000001" x2="694.9" y2="201.4600000000001" class="tk"/>
<text x="416.7" y="205.7600000000001" text-anchor="end" class="tl">0.84</text>
<line x1="421.0" y1="156.02000000000004" x2="423.6" y2="156.02000000000004" class="tk"/><line x1="697.5" y1="156.02000000000004" x2="694.9" y2="156.02000000000004" class="tk"/>
<text x="416.7" y="160.32000000000005" text-anchor="end" class="tl">0.88</text>
<line x1="421.0" y1="110.58000000000001" x2="423.6" y2="110.58000000000001" class="tk"/><line x1="697.5" y1="110.58000000000001" x2="694.9" y2="110.58000000000001" class="tk"/>
<text x="416.7" y="114.88000000000001" text-anchor="end" class="tl">0.92</text>
<line x1="421.0" y1="65.14000000000007" x2="423.6" y2="65.14000000000007" class="tk"/><line x1="697.5" y1="65.14000000000007" x2="694.9" y2="65.14000000000007" class="tk"/>
<text x="416.7" y="69.44000000000007" text-anchor="end" class="tl">0.96</text>
<line x1="421.0" y1="19.700000000000045" x2="423.6" y2="19.700000000000045" class="tk"/><line x1="697.5" y1="19.700000000000045" x2="694.9" y2="19.700000000000045" class="tk"/>
<text x="416.7" y="24.000000000000046" text-anchor="end" class="tl">1</text>
<g fill="none" stroke-width="2" stroke-linejoin="round">
<path d="M421.00 59.79L421.5 60.8L422.0 61.9L422.5 63.2L423.0 64.5L423.5 65.9L424.0 67.3L424.5 68.7L425.0 70.0L425.5 71.1L426.0 72.0L426.5 72.6L427.0 73.0L427.5 72.9L428.0 72.6L428.5 71.9L429.0 71.0L429.5 69.9L430.0 68.8L430.5 67.8L431.0 66.9L431.5 66.2L432.0 65.7L432.5 65.3L433.0 64.8L433.5 64.5L434.0 64.3L434.5 64.5L435.0 65.3L435.5 66.5L436.0 68.3L436.5 70.4L437.0 72.8L437.5 75.2L438.0 77.5L438.5 79.6L439.0 81.4L439.5 82.7L440.0 83.5L440.5 83.8L441.0 83.5L441.5 82.7L442.0 81.5L442.5 79.8L443.0 77.8L443.5 75.5L444.0 73.1L444.5 70.7L445.0 68.4L445.5 66.2L446.0 64.3L446.5 62.7L447.0 61.5L447.5 60.9L448.0 60.7L448.5 61.0L449.0 61.9L449.5 63.4L450.0 65.4L450.5 67.9L451.0 70.9L451.5 74.3L452.0 78.0L452.5 82.0L453.0 86.2L453.5 90.4L454.0 94.6L454.5 98.7L455.0 102.5L455.5 105.9L456.0 108.8L456.5 111.1L457.0 112.7L457.5 113.5L458.0 113.4L458.5 112.4L459.0 110.5L459.5 107.7L460.0 104.1L460.5 99.8L461.0 94.8L461.5 89.4L462.0 83.7L462.5 77.9L463.0 72.1L463.5 66.7L464.0 61.6L464.5 57.2L465.0 53.4L465.5 50.5L466.0 48.5L466.5 47.4L467.0 47.3L467.5 48.1L468.0 49.9L468.5 52.5L469.0 55.8L469.5 59.9L470.0 64.5L470.5 69.6L471.0 75.1L471.5 80.7L472.0 86.4L472.5 92.0L473.0 97.5L473.5 102.7L474.0 107.5L474.5 111.8L475.0 115.6L475.5 118.8L476.0 121.4L476.5 123.2L477.0 124.3L477.5 124.7L478.0 124.4L478.5 123.3L479.0 121.6L479.5 119.3L480.0 116.4L480.5 112.9L481.0 108.9L481.5 104.5L482.0 99.7L482.5 94.7L483.0 89.5L483.5 84.1L484.0 78.7L484.5 73.4L485.0 68.2L485.5 63.2L486.0 58.4L486.5 54.1L487.0 50.2L487.5 46.8L488.0 44.0L488.5 41.8L489.0 40.3L489.5 39.6L490.0 39.6L490.5 40.4L491.0 41.9L491.5 44.2L492.0 47.3L492.5 51.1L493.0 55.6L493.5 60.7L494.0 66.3L494.5 72.4L495.0 78.9L495.5 85.6L496.0 92.6L496.5 99.6L497.0 106.6L497.5 113.4L498.0 120.0L498.5 126.2L499.0 132.0L499.5 137.2L500.0 141.9L500.5 145.8L501.0 149.0L501.5 151.4L502.0 153.0L502.5 153.8L503.0 153.8L503.5 152.9L504.0 151.2L504.5 148.8L505.0 145.6L505.5 141.9L506.0 137.5L506.5 132.6L507.0 127.3L507.5 121.7L508.0 115.8L508.5 109.8L509.0 103.7L509.5 97.5L510.0 91.5L510.5 85.6L511.0 80.0L511.5 74.6L512.0 69.5L512.5 64.8L513.0 60.5L513.5 56.6L514.0 53.2L514.5 50.1L515.0 47.5L515.5 45.3L516.0 43.5L516.5 42.0L517.0 40.9L517.5 40.1L518.0 39.7L518.5 39.5L519.0 39.6L519.5 40.0L520.0 40.7L520.5 41.6L521.0 42.8L521.5 44.3L522.0 46.1L522.5 48.2L523.0 50.6L523.5 53.4L524.0 56.5L524.5 60.1L525.0 64.0L525.5 68.4L526.0 73.1L526.5 78.3L527.0 83.8L527.5 89.6L528.0 95.8L528.5 102.2L529.0 108.8L529.5 115.4L530.0 122.2L530.5 128.8L531.0 135.3L531.5 141.5L532.0 147.4L532.5 152.8L533.0 157.7L533.5 161.9L534.0 165.4L534.5 168.2L535.0 170.1L535.5 171.1L536.0 171.2L536.5 170.5L537.0 168.8L537.5 166.2L538.0 162.8L538.5 158.7L539.0 153.8L539.5 148.3L540.0 142.3L540.5 135.8L541.0 129.0L541.5 122.0L542.0 114.9L542.5 107.7L543.0 100.7L543.5 93.8L544.0 87.3L544.5 81.0L545.0 75.2L545.5 69.9L546.0 65.1L546.5 60.8L547.0 57.0L547.5 53.8L548.0 51.2L548.5 49.1L549.0 47.4L549.5 46.2L550.0 45.4L550.5 45.0L551.0 44.8L551.5 44.9L552.0 45.2L552.5 45.6L553.0 46.0L553.5 46.5L554.0 46.9L554.5 47.3L555.0 47.6L555.5 47.8L556.0 47.8L556.5 47.7L557.0 47.5L557.5 47.2L558.0 46.8L558.5 46.3L559.0 45.8L559.5 45.3L560.0 44.9L560.5 44.6L561.0 44.5L561.5 44.6L562.0 45.1L562.5 45.8L563.0 47.0L563.5 48.6L564.0 50.7L564.5 53.3L565.0 56.5L565.5 60.2L566.0 64.6L566.5 69.4L567.0 74.9L567.5 80.9L568.0 87.3L568.5 94.2L569.0 101.5L569.5 109.2L570.0 117.1L570.5 125.1L571.0 133.2L571.5 141.4L572.0 149.4L572.5 157.2L573.0 164.7L573.5 171.9L574.0 178.5L574.5 184.7L575.0 190.1L575.5 194.9L576.0 198.9L576.5 202.1L577.0 204.5L577.5 206.0L578.0 206.6L578.5 206.3L579.0 205.1L579.5 203.0L580.0 200.0L580.5 196.3L581.0 191.8L581.5 186.6L582.0 180.8L582.5 174.4L583.0 167.5L583.5 160.3L584.0 152.7L584.5 144.8L585.0 136.8L585.5 128.8L586.0 120.8L586.5 112.9L587.0 105.1L587.5 97.6L588.0 90.4L588.5 83.6L589.0 77.2L589.5 71.3L590.0 65.8L590.5 60.9L591.0 56.5L591.5 52.6L592.0 49.2L592.5 46.4L593.0 44.1L593.5 42.3L594.0 40.9L594.5 40.1L595.0 39.6L595.5 39.4L596.0 39.3L596.5 39.3L597.0 39.5L597.5 39.7L598.0 40.1L598.5 40.6L599.0 41.2L599.5 41.8L600.0 42.5L600.5 43.1L601.0 43.8L601.5 44.5L602.0 45.1L602.5 45.7L603.0 46.2L603.5 46.6L604.0 46.9L604.5 47.1L605.0 47.1L605.5 47.0L606.0 46.9L606.5 46.6L607.0 46.3L607.5 45.9L608.0 45.5L608.5 45.0L609.0 44.5L609.5 43.9L610.0 43.4L610.5 42.8L611.0 42.3L611.5 41.7L612.0 41.2L612.5 40.7L613.0 40.3L613.5 39.9L614.0 39.5L614.5 39.3L615.0 39.1L615.5 39.0L616.0 39.0L616.5 39.0L617.0 39.1L617.5 39.2L618.0 39.3L618.5 39.5L619.0 39.7L619.5 39.9L620.0 40.1L620.5 40.3L621.0 40.5L621.5 40.8L622.0 41.0L622.5 41.2L623.0 41.3L623.5 41.5L624.0 41.6L624.5 41.7L625.0 41.8L625.5 41.8L626.0 41.8L626.5 41.7L627.0 41.7L627.5 41.6L628.0 41.4L628.5 41.3L629.0 41.1L629.5 41.0L630.0 40.8L630.5 40.6L631.0 40.4L631.5 40.3L632.0 40.1L632.5 39.9L633.0 39.8L633.5 39.6L634.0 39.5L634.5 39.4L635.0 39.3L635.5 39.3L636.0 39.3L636.5 39.3L637.0 39.4L637.5 39.4L638.0 39.5L638.5 39.6L639.0 39.7L639.5 39.8L640.0 39.9L640.5 40.0L641.0 40.1L641.5 40.2L642.0 40.3L642.5 40.4L643.0 40.5L643.5 40.6L644.0 40.7L644.5 40.7L645.0 40.8L645.5 40.8L646.0 40.8L646.5 40.8L647.0 40.7L647.5 40.7L648.0 40.6L648.5 40.5L649.0 40.5L649.5 40.4L650.0 40.3L650.5 40.1L651.0 40.0L651.5 39.9L652.0 39.8L652.5 39.7L653.0 39.6L653.5 39.5L654.0 39.4L654.5 39.3L655.0 39.2L655.5 39.1L656.0 39.1L656.5 39.0L657.0 39.0L657.5 39.0L658.0 39.0L658.5 39.0L659.0 39.1L659.5 39.2L660.0 39.2L660.5 39.3L661.0 39.4L661.5 39.5L662.0 39.6L662.5 39.7L663.0 39.8L663.5 39.9L664.0 40.1L664.5 40.1L665.0 40.2L665.5 40.3L666.0 40.4L666.5 40.4L667.0 40.5L667.5 40.5L668.0 40.5L668.5 40.5L669.0 40.5L669.5 40.4L670.0 40.4L670.5 40.3L671.0 40.2L671.5 40.2L672.0 40.1L672.5 40.0L673.0 39.9L673.5 39.8L674.0 39.7L674.5 39.7L675.0 39.6L675.5 39.5L676.0 39.5L676.5 39.4L677.0 39.4L677.5 39.3L678.0 39.3L678.5 39.3L679.0 39.3L679.5 39.3L680.0 39.4L680.5 39.4L681.0 39.5L681.5 39.6L682.0 39.6L682.5 39.7L683.0 39.8L683.5 39.9L684.0 40.0L684.5 40.1L685.0 40.1L685.5 40.2L686.0 40.3L686.5 40.4L687.0 40.4L687.5 40.5L688.0 40.5L688.5 40.5L689.0 40.5L689.5 40.5L690.0 40.5L690.5 40.5L691.0 40.5L691.5 40.4L692.0 40.4L692.5 40.4L693.0 40.4L693.5 40.3L694.0 40.3L694.5 40.3L695.0 40.3L695.5 40.2L696.0 40.2L696.5 40.2L697.0 40.2L697.5 40.2" stroke="#0a0ac8" stroke-width="1.7"/>
<path d="M421.00 59.96L421.5 61.0L422.0 62.1L422.5 63.3L423.0 64.7L423.5 66.1L424.0 67.5L424.5 68.9L425.0 70.1L425.5 71.3L426.0 72.2L426.5 72.8L427.0 73.1L427.5 73.1L428.0 72.7L428.5 72.1L429.0 71.2L429.5 70.1L430.0 69.0L430.5 67.9L431.0 67.0L431.5 66.4L432.0 65.9L432.5 65.4L433.0 65.0L433.5 64.6L434.0 64.5L434.5 64.7L435.0 65.4L435.5 66.7L436.0 68.4L436.5 70.6L437.0 72.9L437.5 75.3L438.0 77.7L438.5 79.8L439.0 81.5L439.5 82.9L440.0 83.7L440.5 84.0L441.0 83.7L441.5 82.9L442.0 81.6L442.5 79.9L443.0 77.9L443.5 75.7L444.0 73.3L444.5 70.9L445.0 68.5L445.5 66.4L446.0 64.5L446.5 62.9L447.0 61.7L447.5 61.0L448.0 60.8L448.5 61.2L449.0 62.1L449.5 63.6L450.0 65.6L450.5 68.1L451.0 71.1L451.5 74.5L452.0 78.2L452.5 82.2L453.0 86.3L453.5 90.6L454.0 94.8L454.5 98.8L455.0 102.6L455.5 106.1L456.0 109.0L456.5 111.3L457.0 112.9L457.5 113.7L458.0 113.6L458.5 112.6L459.0 110.7L459.5 107.9L460.0 104.3L460.5 99.9L461.0 95.0L461.5 89.5L462.0 83.8L462.5 78.0L463.0 72.3L463.5 66.8L464.0 61.8L464.5 57.3L465.0 53.6L465.5 50.7L466.0 48.7L466.5 47.6L467.0 47.5L467.5 48.3L468.0 50.0L468.5 52.6L469.0 56.0L469.5 60.1L470.0 64.7L470.5 69.8L471.0 75.2L471.5 80.9L472.0 86.5L472.5 92.2L473.0 97.7L473.5 102.9L474.0 107.7L474.5 112.0L475.0 115.8L475.5 119.0L476.0 121.5L476.5 123.3L477.0 124.5L477.5 124.9L478.0 124.5L478.5 123.5L479.0 121.8L479.5 119.4L480.0 116.5L480.5 113.0L481.0 109.0L481.5 104.6L482.0 99.9L482.5 94.9L483.0 89.6L483.5 84.3L484.0 78.9L484.5 73.6L485.0 68.3L485.5 63.3L486.0 58.6L486.5 54.3L487.0 50.4L487.5 47.0L488.0 44.2L488.5 42.0L489.0 40.5L489.5 39.7L490.0 39.7L490.5 40.5L491.0 42.1L491.5 44.4L492.0 47.5L492.5 51.3L493.0 55.7L493.5 60.8L494.0 66.5L494.5 72.6L495.0 79.0L495.5 85.8L496.0 92.7L496.5 99.8L497.0 106.7L497.5 113.6L498.0 120.1L498.5 126.4L499.0 132.2L499.5 137.4L500.0 142.0L500.5 146.0L501.0 149.2L501.5 151.6L502.0 153.2L502.5 154.0L503.0 153.9L503.5 153.0L504.0 151.4L504.5 148.9L505.0 145.8L505.5 142.0L506.0 137.7L506.5 132.8L507.0 127.5L507.5 121.9L508.0 116.0L508.5 109.9L509.0 103.8L509.5 97.7L510.0 91.7L510.5 85.8L511.0 80.1L511.5 74.8L512.0 69.7L512.5 65.0L513.0 60.7L513.5 56.8L514.0 53.3L514.5 50.3L515.0 47.7L515.5 45.4L516.0 43.6L516.5 42.2L517.0 41.1L517.5 40.3L518.0 39.8L518.5 39.7L519.0 39.8L519.5 40.2L520.0 40.8L520.5 41.8L521.0 43.0L521.5 44.4L522.0 46.2L522.5 48.3L523.0 50.8L523.5 53.5L524.0 56.7L524.5 60.2L525.0 64.2L525.5 68.5L526.0 73.3L526.5 78.4L527.0 83.9L527.5 89.8L528.0 95.9L528.5 102.3L529.0 108.9L529.5 115.6L530.0 122.3L530.5 129.0L531.0 135.4L531.5 141.7L532.0 147.5L532.5 153.0L533.0 157.8L533.5 162.1L534.0 165.6L534.5 168.3L535.0 170.2L535.5 171.3L536.0 171.4L536.5 170.6L537.0 168.9L537.5 166.4L538.0 163.0L538.5 158.8L539.0 153.9L539.5 148.4L540.0 142.4L540.5 136.0L541.0 129.2L541.5 122.1L542.0 115.0L542.5 107.9L543.0 100.8L543.5 94.0L544.0 87.4L544.5 81.2L545.0 75.4L545.5 70.1L546.0 65.2L546.5 60.9L547.0 57.2L547.5 54.0L548.0 51.4L548.5 49.2L549.0 47.6L549.5 46.4L550.0 45.6L550.5 45.2L551.0 45.0L551.5 45.1L552.0 45.4L552.5 45.7L553.0 46.2L553.5 46.6L554.0 47.1L554.5 47.5L555.0 47.7L555.5 47.9L556.0 48.0L556.5 47.9L557.0 47.7L557.5 47.3L558.0 46.9L558.5 46.4L559.0 45.9L559.5 45.5L560.0 45.1L560.5 44.8L561.0 44.7L561.5 44.8L562.0 45.2L562.5 46.0L563.0 47.2L563.5 48.8L564.0 50.9L564.5 53.5L565.0 56.7L565.5 60.4L566.0 64.7L566.5 69.6L567.0 75.1L567.5 81.0L568.0 87.5L568.5 94.4L569.0 101.7L569.5 109.3L570.0 117.2L570.5 125.3L571.0 133.4L571.5 141.5L572.0 149.5L572.5 157.3L573.0 164.9L573.5 172.0L574.0 178.7L574.5 184.8L575.0 190.3L575.5 195.1L576.0 199.1L576.5 202.3L577.0 204.6L577.5 206.1L578.0 206.7L578.5 206.4L579.0 205.2L579.5 203.1L580.0 200.2L580.5 196.5L581.0 192.0L581.5 186.8L582.0 180.9L582.5 174.6L583.0 167.7L583.5 160.4L584.0 152.8L584.5 145.0L585.0 137.0L585.5 129.0L586.0 120.9L586.5 113.0L587.0 105.3L587.5 97.8L588.0 90.6L588.5 83.8L589.0 77.4L589.5 71.5L590.0 66.0L590.5 61.1L591.0 56.6L591.5 52.8L592.0 49.4L592.5 46.6L593.0 44.3L593.5 42.4L594.0 41.1L594.5 40.2L595.0 39.8L595.5 39.5L596.0 39.5L596.5 39.5L597.0 39.6L597.5 39.9L598.0 40.3L598.5 40.8L599.0 41.3L599.5 42.0L600.0 42.6L600.5 43.3L601.0 44.0L601.5 44.7L602.0 45.3L602.5 45.9L603.0 46.4L603.5 46.8L604.0 47.1L604.5 47.3L605.0 47.3L605.5 47.2L606.0 47.0L606.5 46.8L607.0 46.4L607.5 46.1L608.0 45.6L608.5 45.1L609.0 44.6L609.5 44.1L610.0 43.5L610.5 43.0L611.0 42.4L611.5 41.9L612.0 41.4L612.5 40.9L613.0 40.4L613.5 40.0L614.0 39.7L614.5 39.4L615.0 39.2L615.5 39.1L616.0 39.1L616.5 39.2L617.0 39.2L617.5 39.4L618.0 39.5L618.5 39.7L619.0 39.8L619.5 40.1L620.0 40.3L620.5 40.5L621.0 40.7L621.5 40.9L622.0 41.1L622.5 41.3L623.0 41.5L623.5 41.7L624.0 41.8L624.5 41.9L625.0 42.0L625.5 42.0L626.0 42.0L626.5 41.9L627.0 41.8L627.5 41.7L628.0 41.6L628.5 41.5L629.0 41.3L629.5 41.1L630.0 41.0L630.5 40.8L631.0 40.6L631.5 40.4L632.0 40.2L632.5 40.1L633.0 39.9L633.5 39.8L634.0 39.7L634.5 39.6L635.0 39.5L635.5 39.5L636.0 39.5L636.5 39.5L637.0 39.5L637.5 39.6L638.0 39.7L638.5 39.7L639.0 39.8L639.5 39.9L640.0 40.1L640.5 40.2L641.0 40.3L641.5 40.4L642.0 40.5L642.5 40.6L643.0 40.7L643.5 40.8L644.0 40.9L644.5 40.9L645.0 41.0L645.5 41.0L646.0 41.0L646.5 41.0L647.0 40.9L647.5 40.9L648.0 40.8L648.5 40.7L649.0 40.6L649.5 40.5L650.0 40.4L650.5 40.3L651.0 40.2L651.5 40.1L652.0 40.0L652.5 39.9L653.0 39.7L653.5 39.6L654.0 39.5L654.5 39.4L655.0 39.4L655.5 39.3L656.0 39.2L656.5 39.2L657.0 39.2L657.5 39.2L658.0 39.2L658.5 39.2L659.0 39.3L659.5 39.3L660.0 39.4L660.5 39.5L661.0 39.6L661.5 39.7L662.0 39.8L662.5 39.9L663.0 40.0L663.5 40.1L664.0 40.2L664.5 40.3L665.0 40.4L665.5 40.5L666.0 40.6L666.5 40.6L667.0 40.6L667.5 40.7L668.0 40.7L668.5 40.7L669.0 40.6L669.5 40.6L670.0 40.5L670.5 40.5L671.0 40.4L671.5 40.3L672.0 40.3L672.5 40.2L673.0 40.1L673.5 40.0L674.0 39.9L674.5 39.8L675.0 39.8L675.5 39.7L676.0 39.6L676.5 39.6L677.0 39.5L677.5 39.5L678.0 39.5L678.5 39.5L679.0 39.5L679.5 39.5L680.0 39.6L680.5 39.6L681.0 39.7L681.5 39.7L682.0 39.8L682.5 39.9L683.0 40.0L683.5 40.1L684.0 40.2L684.5 40.2L685.0 40.3L685.5 40.4L686.0 40.5L686.5 40.5L687.0 40.6L687.5 40.6L688.0 40.7L688.5 40.7L689.0 40.7L689.5 40.7L690.0 40.7L690.5 40.6L691.0 40.6L691.5 40.6L692.0 40.6L692.5 40.6L693.0 40.5L693.5 40.5L694.0 40.5L694.5 40.5L695.0 40.4L695.5 40.4L696.0 40.4L696.5 40.4L697.0 40.4L697.5 40.4" stroke="#000000" stroke-width="1.7"/>
<path d="M421.00 60.12L421.5 61.1L422.0 62.3L422.5 63.5L423.0 64.8L423.5 66.2L424.0 67.6L424.5 69.0L425.0 70.3L425.5 71.4L426.0 72.3L426.5 73.0L427.0 73.3L427.5 73.3L428.0 72.9L428.5 72.2L429.0 71.3L429.5 70.3L430.0 69.1L430.5 68.1L431.0 67.2L431.5 66.6L432.0 66.1L432.5 65.6L433.0 65.2L433.5 64.8L434.0 64.6L434.5 64.9L435.0 65.6L435.5 66.9L436.0 68.6L436.5 70.7L437.0 73.1L437.5 75.5L438.0 77.8L438.5 79.9L439.0 81.7L439.5 83.0L440.0 83.8L440.5 84.1L441.0 83.8L441.5 83.1L442.0 81.8L442.5 80.1L443.0 78.1L443.5 75.8L444.0 73.5L444.5 71.0L445.0 68.7L445.5 66.5L446.0 64.6L446.5 63.0L447.0 61.9L447.5 61.2L448.0 61.0L448.5 61.4L449.0 62.3L449.5 63.7L450.0 65.7L450.5 68.3L451.0 71.2L451.5 74.6L452.0 78.4L452.5 82.3L453.0 86.5L453.5 90.7L454.0 94.9L454.5 99.0L455.0 102.8L455.5 106.2L456.0 109.1L456.5 111.4L457.0 113.0L457.5 113.8L458.0 113.7L458.5 112.8L459.0 110.9L459.5 108.1L460.0 104.4L460.5 100.1L461.0 95.1L461.5 89.7L462.0 84.0L462.5 78.2L463.0 72.4L463.5 67.0L464.0 61.9L464.5 57.5L465.0 53.8L465.5 50.8L466.0 48.8L466.5 47.7L467.0 47.6L467.5 48.5L468.0 50.2L468.5 52.8L469.0 56.2L469.5 60.2L470.0 64.9L470.5 70.0L471.0 75.4L471.5 81.0L472.0 86.7L472.5 92.4L473.0 97.8L473.5 103.0L474.0 107.8L474.5 112.2L475.0 116.0L475.5 119.1L476.0 121.7L476.5 123.5L477.0 124.6L477.5 125.0L478.0 124.7L478.5 123.7L479.0 122.0L479.5 119.6L480.0 116.7L480.5 113.2L481.0 109.2L481.5 104.8L482.0 100.1L482.5 95.0L483.0 89.8L483.5 84.5L484.0 79.1L484.5 73.7L485.0 68.5L485.5 63.5L486.0 58.8L486.5 54.4L487.0 50.5L487.5 47.1L488.0 44.3L488.5 42.2L489.0 40.7L489.5 39.9L490.0 39.9L490.5 40.7L491.0 42.2L491.5 44.6L492.0 47.6L492.5 51.4L493.0 55.9L493.5 61.0L494.0 66.6L494.5 72.7L495.0 79.2L495.5 86.0L496.0 92.9L496.5 99.9L497.0 106.9L497.5 113.7L498.0 120.3L498.5 126.5L499.0 132.3L499.5 137.6L500.0 142.2L500.5 146.1L501.0 149.3L501.5 151.7L502.0 153.3L502.5 154.1L503.0 154.1L503.5 153.2L504.0 151.5L504.5 149.1L505.0 146.0L505.5 142.2L506.0 137.8L506.5 132.9L507.0 127.6L507.5 122.0L508.0 116.1L508.5 110.1L509.0 104.0L509.5 97.9L510.0 91.8L510.5 85.9L511.0 80.3L511.5 74.9L512.0 69.9L512.5 65.2L513.0 60.9L513.5 57.0L514.0 53.5L514.5 50.5L515.0 47.8L515.5 45.6L516.0 43.8L516.5 42.3L517.0 41.2L517.5 40.5L518.0 40.0L518.5 39.8L519.0 40.0L519.5 40.3L520.0 41.0L520.5 41.9L521.0 43.1L521.5 44.6L522.0 46.4L522.5 48.5L523.0 50.9L523.5 53.7L524.0 56.9L524.5 60.4L525.0 64.3L525.5 68.7L526.0 73.4L526.5 78.6L527.0 84.1L527.5 89.9L528.0 96.1L528.5 102.5L529.0 109.1L529.5 115.8L530.0 122.5L530.5 129.1L531.0 135.6L531.5 141.8L532.0 147.7L532.5 153.1L533.0 158.0L533.5 162.2L534.0 165.7L534.5 168.5L535.0 170.4L535.5 171.4L536.0 171.5L536.5 170.7L537.0 169.1L537.5 166.5L538.0 163.1L538.5 159.0L539.0 154.1L539.5 148.6L540.0 142.6L540.5 136.1L541.0 129.3L541.5 122.3L542.0 115.2L542.5 108.0L543.0 101.0L543.5 94.2L544.0 87.6L544.5 81.4L545.0 75.6L545.5 70.2L546.0 65.4L546.5 61.1L547.0 57.4L547.5 54.2L548.0 51.5L548.5 49.4L549.0 47.8L549.5 46.6L550.0 45.8L550.5 45.3L551.0 45.2L551.5 45.3L552.0 45.5L552.5 45.9L553.0 46.3L553.5 46.8L554.0 47.3L554.5 47.6L555.0 47.9L555.5 48.1L556.0 48.1L556.5 48.0L557.0 47.8L557.5 47.5L558.0 47.1L558.5 46.6L559.0 46.1L559.5 45.6L560.0 45.2L560.5 44.9L561.0 44.8L561.5 45.0L562.0 45.4L562.5 46.2L563.0 47.3L563.5 48.9L564.0 51.0L564.5 53.7L565.0 56.8L565.5 60.6L566.0 64.9L566.5 69.8L567.0 75.2L567.5 81.2L568.0 87.6L568.5 94.6L569.0 101.9L569.5 109.5L570.0 117.4L570.5 125.4L571.0 133.5L571.5 141.7L572.0 149.7L572.5 157.5L573.0 165.0L573.5 172.2L574.0 178.8L574.5 184.9L575.0 190.4L575.5 195.2L576.0 199.2L576.5 202.4L577.0 204.8L577.5 206.3L578.0 206.9L578.5 206.5L579.0 205.3L579.5 203.3L580.0 200.3L580.5 196.6L581.0 192.1L581.5 186.9L582.0 181.1L582.5 174.7L583.0 167.8L583.5 160.6L584.0 153.0L584.5 145.1L585.0 137.1L585.5 129.1L586.0 121.1L586.5 113.2L587.0 105.4L587.5 97.9L588.0 90.8L588.5 84.0L589.0 77.6L589.5 71.6L590.0 66.2L590.5 61.2L591.0 56.8L591.5 52.9L592.0 49.6L592.5 46.8L593.0 44.4L593.5 42.6L594.0 41.3L594.5 40.4L595.0 39.9L595.5 39.7L596.0 39.6L596.5 39.7L597.0 39.8L597.5 40.1L598.0 40.5L598.5 40.9L599.0 41.5L599.5 42.1L600.0 42.8L600.5 43.5L601.0 44.2L601.5 44.8L602.0 45.5L602.5 46.1L603.0 46.6L603.5 47.0L604.0 47.3L604.5 47.4L605.0 47.5L605.5 47.4L606.0 47.2L606.5 46.9L607.0 46.6L607.5 46.2L608.0 45.8L608.5 45.3L609.0 44.8L609.5 44.3L610.0 43.7L610.5 43.2L611.0 42.6L611.5 42.1L612.0 41.5L612.5 41.1L613.0 40.6L613.5 40.2L614.0 39.9L614.5 39.6L615.0 39.4L615.5 39.3L616.0 39.3L616.5 39.3L617.0 39.4L617.5 39.5L618.0 39.7L618.5 39.8L619.0 40.0L619.5 40.2L620.0 40.4L620.5 40.7L621.0 40.9L621.5 41.1L622.0 41.3L622.5 41.5L623.0 41.7L623.5 41.8L624.0 42.0L624.5 42.1L625.0 42.1L625.5 42.1L626.0 42.1L626.5 42.1L627.0 42.0L627.5 41.9L628.0 41.8L628.5 41.6L629.0 41.5L629.5 41.3L630.0 41.1L630.5 40.9L631.0 40.8L631.5 40.6L632.0 40.4L632.5 40.2L633.0 40.1L633.5 40.0L634.0 39.8L634.5 39.7L635.0 39.7L635.5 39.6L636.0 39.6L636.5 39.7L637.0 39.7L637.5 39.8L638.0 39.8L638.5 39.9L639.0 40.0L639.5 40.1L640.0 40.2L640.5 40.3L641.0 40.4L641.5 40.6L642.0 40.7L642.5 40.8L643.0 40.9L643.5 41.0L644.0 41.0L644.5 41.1L645.0 41.1L645.5 41.1L646.0 41.1L646.5 41.1L647.0 41.1L647.5 41.0L648.0 41.0L648.5 40.9L649.0 40.8L649.5 40.7L650.0 40.6L650.5 40.5L651.0 40.4L651.5 40.3L652.0 40.1L652.5 40.0L653.0 39.9L653.5 39.8L654.0 39.7L654.5 39.6L655.0 39.5L655.5 39.5L656.0 39.4L656.5 39.4L657.0 39.3L657.5 39.3L658.0 39.4L658.5 39.4L659.0 39.4L659.5 39.5L660.0 39.6L660.5 39.7L661.0 39.8L661.5 39.9L662.0 40.0L662.5 40.1L663.0 40.2L663.5 40.3L664.0 40.4L664.5 40.5L665.0 40.6L665.5 40.7L666.0 40.7L666.5 40.8L667.0 40.8L667.5 40.8L668.0 40.8L668.5 40.8L669.0 40.8L669.5 40.8L670.0 40.7L670.5 40.6L671.0 40.6L671.5 40.5L672.0 40.4L672.5 40.3L673.0 40.2L673.5 40.2L674.0 40.1L674.5 40.0L675.0 39.9L675.5 39.8L676.0 39.8L676.5 39.7L677.0 39.7L677.5 39.7L678.0 39.6L678.5 39.6L679.0 39.7L679.5 39.7L680.0 39.7L680.5 39.8L681.0 39.8L681.5 39.9L682.0 40.0L682.5 40.1L683.0 40.1L683.5 40.2L684.0 40.3L684.5 40.4L685.0 40.5L685.5 40.6L686.0 40.6L686.5 40.7L687.0 40.7L687.5 40.8L688.0 40.8L688.5 40.8L689.0 40.8L689.5 40.8L690.0 40.8L690.5 40.8L691.0 40.8L691.5 40.8L692.0 40.8L692.5 40.7L693.0 40.7L693.5 40.7L694.0 40.6L694.5 40.6L695.0 40.6L695.5 40.6L696.0 40.6L696.5 40.6L697.0 40.5L697.5 40.5" stroke="#14e0e6" stroke-width="2.5"/>
<path d="M421.00 63.79L421.5 64.8L422.0 65.9L422.5 67.2L423.0 68.5L423.5 69.9L424.0 71.3L424.5 72.7L425.0 73.9L425.5 75.1L426.0 76.0L426.5 76.6L427.0 76.9L427.5 76.9L428.0 76.5L428.5 75.9L429.0 75.0L429.5 73.9L430.0 72.8L430.5 71.7L431.0 70.9L431.5 70.2L432.0 69.7L432.5 69.3L433.0 68.8L433.5 68.4L434.0 68.3L434.5 68.5L435.0 69.2L435.5 70.5L436.0 72.2L436.5 74.4L437.0 76.7L437.5 79.1L438.0 81.4L438.5 83.6L439.0 85.3L439.5 86.6L440.0 87.4L440.5 87.7L441.0 87.4L441.5 86.6L442.0 85.4L442.5 83.7L443.0 81.7L443.5 79.5L444.0 77.1L444.5 74.7L445.0 72.3L445.5 70.2L446.0 68.3L446.5 66.7L447.0 65.5L447.5 64.8L448.0 64.7L448.5 65.0L449.0 65.9L449.5 67.4L450.0 69.4L450.5 71.9L451.0 74.9L451.5 78.2L452.0 82.0L452.5 85.9L453.0 90.1L453.5 94.3L454.0 98.5L454.5 102.5L455.0 106.3L455.5 109.7L456.0 112.6L456.5 114.9L457.0 116.5L457.5 117.3L458.0 117.2L458.5 116.2L459.0 114.4L459.5 111.6L460.0 108.0L460.5 103.6L461.0 98.7L461.5 93.3L462.0 87.6L462.5 81.8L463.0 76.1L463.5 70.6L464.0 65.6L464.5 61.2L465.0 57.5L465.5 54.6L466.0 52.5L466.5 51.5L467.0 51.3L467.5 52.2L468.0 53.9L468.5 56.5L469.0 59.9L469.5 63.9L470.0 68.5L470.5 73.6L471.0 79.0L471.5 84.6L472.0 90.3L472.5 95.9L473.0 101.4L473.5 106.5L474.0 111.3L474.5 115.7L475.0 119.4L475.5 122.6L476.0 125.1L476.5 127.0L477.0 128.1L477.5 128.5L478.0 128.1L478.5 127.1L479.0 125.4L479.5 123.1L480.0 120.1L480.5 116.7L481.0 112.7L481.5 108.3L482.0 103.6L482.5 98.6L483.0 93.4L483.5 88.0L484.0 82.7L484.5 77.3L485.0 72.1L485.5 67.2L486.0 62.4L486.5 58.1L487.0 54.2L487.5 50.8L488.0 48.1L488.5 45.9L489.0 44.4L489.5 43.7L490.0 43.7L490.5 44.4L491.0 46.0L491.5 48.3L492.0 51.3L492.5 55.1L493.0 59.6L493.5 64.7L494.0 70.3L494.5 76.4L495.0 82.8L495.5 89.5L496.0 96.5L496.5 103.5L497.0 110.4L497.5 117.2L498.0 123.8L498.5 130.0L499.0 135.7L499.5 141.0L500.0 145.6L500.5 149.5L501.0 152.7L501.5 155.1L502.0 156.7L502.5 157.5L503.0 157.4L503.5 156.5L504.0 154.9L504.5 152.5L505.0 149.3L505.5 145.6L506.0 141.2L506.5 136.4L507.0 131.1L507.5 125.5L508.0 119.6L508.5 113.6L509.0 107.5L509.5 101.4L510.0 95.4L510.5 89.5L511.0 83.9L511.5 78.5L512.0 73.5L512.5 68.8L513.0 64.5L513.5 60.7L514.0 57.2L514.5 54.2L515.0 51.5L515.5 49.3L516.0 47.5L516.5 46.1L517.0 45.0L517.5 44.2L518.0 43.7L518.5 43.6L519.0 43.7L519.5 44.1L520.0 44.7L520.5 45.7L521.0 46.9L521.5 48.3L522.0 50.1L522.5 52.2L523.0 54.6L523.5 57.4L524.0 60.5L524.5 64.1L525.0 68.0L525.5 72.3L526.0 77.1L526.5 82.2L527.0 87.7L527.5 93.5L528.0 99.7L528.5 106.0L529.0 112.6L529.5 119.2L530.0 125.9L530.5 132.6L531.0 139.0L531.5 145.2L532.0 151.1L532.5 156.5L533.0 161.3L533.5 165.5L534.0 169.0L534.5 171.8L535.0 173.7L535.5 174.7L536.0 174.8L536.5 174.0L537.0 172.4L537.5 169.8L538.0 166.5L538.5 162.3L539.0 157.5L539.5 152.0L540.0 146.0L540.5 139.5L541.0 132.8L541.5 125.8L542.0 118.7L542.5 111.6L543.0 104.5L543.5 97.7L544.0 91.2L544.5 85.0L545.0 79.2L545.5 73.9L546.0 69.0L546.5 64.8L547.0 61.0L547.5 57.9L548.0 55.2L548.5 53.1L549.0 51.5L549.5 50.3L550.0 49.5L550.5 49.1L551.0 48.9L551.5 49.0L552.0 49.2L552.5 49.6L553.0 50.1L553.5 50.5L554.0 51.0L554.5 51.3L555.0 51.6L555.5 51.8L556.0 51.8L556.5 51.8L557.0 51.5L557.5 51.2L558.0 50.8L558.5 50.3L559.0 49.8L559.5 49.4L560.0 48.9L560.5 48.7L561.0 48.6L561.5 48.7L562.0 49.1L562.5 49.9L563.0 51.0L563.5 52.6L564.0 54.7L564.5 57.4L565.0 60.5L565.5 64.2L566.0 68.5L566.5 73.4L567.0 78.8L567.5 84.8L568.0 91.2L568.5 98.1L569.0 105.4L569.5 113.0L570.0 120.8L570.5 128.9L571.0 137.0L571.5 145.1L572.0 153.1L572.5 160.8L573.0 168.3L573.5 175.5L574.0 182.1L574.5 188.2L575.0 193.7L575.5 198.4L576.0 202.4L576.5 205.6L577.0 208.0L577.5 209.5L578.0 210.0L578.5 209.7L579.0 208.5L579.5 206.4L580.0 203.5L580.5 199.8L581.0 195.3L581.5 190.2L582.0 184.4L582.5 178.0L583.0 171.1L583.5 163.9L584.0 156.3L584.5 148.5L585.0 140.6L585.5 132.6L586.0 124.6L586.5 116.7L587.0 109.0L587.5 101.5L588.0 94.3L588.5 87.5L589.0 81.2L589.5 75.2L590.0 69.8L590.5 64.9L591.0 60.5L591.5 56.6L592.0 53.3L592.5 50.5L593.0 48.2L593.5 46.3L594.0 45.0L594.5 44.1L595.0 43.7L595.5 43.4L596.0 43.4L596.5 43.4L597.0 43.5L597.5 43.8L598.0 44.2L598.5 44.7L599.0 45.2L599.5 45.9L600.0 46.5L600.5 47.2L601.0 47.9L601.5 48.6L602.0 49.2L602.5 49.8L603.0 50.3L603.5 50.7L604.0 51.0L604.5 51.2L605.0 51.2L605.5 51.1L606.0 50.9L606.5 50.7L607.0 50.3L607.5 49.9L608.0 49.5L608.5 49.0L609.0 48.5L609.5 48.0L610.0 47.4L610.5 46.9L611.0 46.3L611.5 45.8L612.0 45.3L612.5 44.8L613.0 44.3L613.5 43.9L614.0 43.6L614.5 43.3L615.0 43.2L615.5 43.0L616.0 43.0L616.5 43.1L617.0 43.1L617.5 43.3L618.0 43.4L618.5 43.6L619.0 43.8L619.5 44.0L620.0 44.2L620.5 44.4L621.0 44.6L621.5 44.8L622.0 45.0L622.5 45.2L623.0 45.4L623.5 45.6L624.0 45.7L624.5 45.8L625.0 45.9L625.5 45.9L626.0 45.9L626.5 45.8L627.0 45.7L627.5 45.6L628.0 45.5L628.5 45.4L629.0 45.2L629.5 45.0L630.0 44.9L630.5 44.7L631.0 44.5L631.5 44.3L632.0 44.1L632.5 44.0L633.0 43.8L633.5 43.7L634.0 43.6L634.5 43.5L635.0 43.4L635.5 43.4L636.0 43.4L636.5 43.4L637.0 43.4L637.5 43.5L638.0 43.6L638.5 43.7L639.0 43.7L639.5 43.8L640.0 44.0L640.5 44.1L641.0 44.2L641.5 44.3L642.0 44.4L642.5 44.5L643.0 44.6L643.5 44.7L644.0 44.8L644.5 44.8L645.0 44.9L645.5 44.9L646.0 44.9L646.5 44.9L647.0 44.8L647.5 44.8L648.0 44.7L648.5 44.6L649.0 44.5L649.5 44.4L650.0 44.3L650.5 44.2L651.0 44.1L651.5 44.0L652.0 43.9L652.5 43.8L653.0 43.6L653.5 43.5L654.0 43.4L654.5 43.4L655.0 43.3L655.5 43.2L656.0 43.1L656.5 43.1L657.0 43.1L657.5 43.1L658.0 43.1L658.5 43.1L659.0 43.2L659.5 43.2L660.0 43.3L660.5 43.4L661.0 43.5L661.5 43.6L662.0 43.7L662.5 43.8L663.0 43.9L663.5 44.0L664.0 44.1L664.5 44.2L665.0 44.3L665.5 44.4L666.0 44.5L666.5 44.5L667.0 44.6L667.5 44.6L668.0 44.6L668.5 44.6L669.0 44.5L669.5 44.5L670.0 44.4L670.5 44.4L671.0 44.3L671.5 44.2L672.0 44.2L672.5 44.1L673.0 44.0L673.5 43.9L674.0 43.8L674.5 43.7L675.0 43.7L675.5 43.6L676.0 43.5L676.5 43.5L677.0 43.4L677.5 43.4L678.0 43.4L678.5 43.4L679.0 43.4L679.5 43.4L680.0 43.5L680.5 43.5L681.0 43.6L681.5 43.6L682.0 43.7L682.5 43.8L683.0 43.9L683.5 44.0L684.0 44.1L684.5 44.1L685.0 44.2L685.5 44.3L686.0 44.4L686.5 44.4L687.0 44.5L687.5 44.5L688.0 44.6L688.5 44.6L689.0 44.6L689.5 44.6L690.0 44.6L690.5 44.5L691.0 44.5L691.5 44.5L692.0 44.5L692.5 44.5L693.0 44.4L693.5 44.4L694.0 44.4L694.5 44.4L695.0 44.3L695.5 44.3L696.0 44.3L696.5 44.3L697.0 44.3L697.5 44.3" stroke="#00cc00" stroke-width="1.2"/>
<path d="M421.00 64.01L421.5 65.0L422.0 66.1L422.5 67.4L423.0 68.7L423.5 70.1L424.0 71.5L424.5 72.9L425.0 74.2L425.5 75.3L426.0 76.2L426.5 76.8L427.0 77.1L427.5 77.1L428.0 76.7L428.5 76.1L429.0 75.2L429.5 74.1L430.0 73.0L430.5 71.9L431.0 71.1L431.5 70.4L432.0 69.9L432.5 69.5L433.0 69.0L433.5 68.7L434.0 68.5L434.5 68.7L435.0 69.5L435.5 70.7L436.0 72.5L436.5 74.6L437.0 76.9L437.5 79.3L438.0 81.7L438.5 83.8L439.0 85.5L439.5 86.8L440.0 87.7L440.5 87.9L441.0 87.7L441.5 86.9L442.0 85.6L442.5 83.9L443.0 81.9L443.5 79.7L444.0 77.3L444.5 74.9L445.0 72.6L445.5 70.4L446.0 68.5L446.5 66.9L447.0 65.8L447.5 65.1L448.0 64.9L448.5 65.2L449.0 66.1L449.5 67.6L450.0 69.6L450.5 72.1L451.0 75.1L451.5 78.5L452.0 82.2L452.5 86.2L453.0 90.3L453.5 94.5L454.0 98.7L454.5 102.8L455.0 106.5L455.5 109.9L456.0 112.8L456.5 115.1L457.0 116.7L457.5 117.5L458.0 117.4L458.5 116.5L459.0 114.6L459.5 111.8L460.0 108.2L460.5 103.8L461.0 98.9L461.5 93.5L462.0 87.8L462.5 82.0L463.0 76.3L463.5 70.8L464.0 65.8L464.5 61.4L465.0 57.7L465.5 54.8L466.0 52.8L466.5 51.7L467.0 51.6L467.5 52.4L468.0 54.1L468.5 56.7L469.0 60.1L469.5 64.1L470.0 68.7L470.5 73.8L471.0 79.2L471.5 84.8L472.0 90.5L472.5 96.1L473.0 101.6L473.5 106.8L474.0 111.5L474.5 115.9L475.0 119.6L475.5 122.8L476.0 125.3L476.5 127.2L477.0 128.3L477.5 128.7L478.0 128.3L478.5 127.3L479.0 125.6L479.5 123.3L480.0 120.4L480.5 116.9L481.0 112.9L481.5 108.5L482.0 103.8L482.5 98.8L483.0 93.6L483.5 88.3L484.0 82.9L484.5 77.6L485.0 72.4L485.5 67.4L486.0 62.7L486.5 58.3L487.0 54.4L487.5 51.1L488.0 48.3L488.5 46.1L489.0 44.6L489.5 43.9L490.0 43.9L490.5 44.6L491.0 46.2L491.5 48.5L492.0 51.6L492.5 55.4L493.0 59.8L493.5 64.9L494.0 70.5L494.5 76.6L495.0 83.0L495.5 89.8L496.0 96.7L496.5 103.7L497.0 110.6L497.5 117.4L498.0 124.0L498.5 130.2L499.0 135.9L499.5 141.2L500.0 145.8L500.5 149.7L501.0 152.9L501.5 155.3L502.0 156.9L502.5 157.7L503.0 157.6L503.5 156.7L504.0 155.1L504.5 152.7L505.0 149.5L505.5 145.8L506.0 141.4L506.5 136.6L507.0 131.3L507.5 125.7L508.0 119.8L508.5 113.8L509.0 107.7L509.5 101.6L510.0 95.6L510.5 89.7L511.0 84.1L511.5 78.8L512.0 73.7L512.5 69.0L513.0 64.8L513.5 60.9L514.0 57.4L514.5 54.4L515.0 51.8L515.5 49.6L516.0 47.7L516.5 46.3L517.0 45.2L517.5 44.4L518.0 44.0L518.5 43.8L519.0 43.9L519.5 44.3L520.0 45.0L520.5 45.9L521.0 47.1L521.5 48.6L522.0 50.3L522.5 52.4L523.0 54.8L523.5 57.6L524.0 60.8L524.5 64.3L525.0 68.2L525.5 72.5L526.0 77.3L526.5 82.4L527.0 87.9L527.5 93.7L528.0 99.9L528.5 106.2L529.0 112.8L529.5 119.5L530.0 126.1L530.5 132.8L531.0 139.2L531.5 145.4L532.0 151.3L532.5 156.7L533.0 161.5L533.5 165.7L534.0 169.2L534.5 172.0L535.0 173.9L535.5 174.9L536.0 175.0L536.5 174.2L537.0 172.6L537.5 170.0L538.0 166.7L538.5 162.5L539.0 157.7L539.5 152.2L540.0 146.2L540.5 139.7L541.0 133.0L541.5 126.0L542.0 118.9L542.5 111.8L543.0 104.7L543.5 97.9L544.0 91.4L544.5 85.2L545.0 79.4L545.5 74.1L546.0 69.3L546.5 65.0L547.0 61.3L547.5 58.1L548.0 55.4L548.5 53.3L549.0 51.7L549.5 50.5L550.0 49.7L550.5 49.3L551.0 49.1L551.5 49.2L552.0 49.5L552.5 49.8L553.0 50.3L553.5 50.8L554.0 51.2L554.5 51.6L555.0 51.8L555.5 52.0L556.0 52.1L556.5 52.0L557.0 51.8L557.5 51.4L558.0 51.0L558.5 50.5L559.0 50.0L559.5 49.6L560.0 49.2L560.5 48.9L561.0 48.8L561.5 48.9L562.0 49.3L562.5 50.1L563.0 51.3L563.5 52.9L564.0 55.0L564.5 57.6L565.0 60.7L565.5 64.5L566.0 68.8L566.5 73.6L567.0 79.0L567.5 85.0L568.0 91.4L568.5 98.3L569.0 105.6L569.5 113.2L570.0 121.1L570.5 129.1L571.0 137.2L571.5 145.3L572.0 153.3L572.5 161.0L573.0 168.5L573.5 175.7L574.0 182.3L574.5 188.4L575.0 193.9L575.5 198.6L576.0 202.6L576.5 205.8L577.0 208.2L577.5 209.6L578.0 210.2L578.5 209.9L579.0 208.7L579.5 206.6L580.0 203.7L580.5 200.0L581.0 195.5L581.5 190.4L582.0 184.5L582.5 178.2L583.0 171.3L583.5 164.1L584.0 156.5L584.5 148.7L585.0 140.8L585.5 132.8L586.0 124.8L586.5 116.9L587.0 109.2L587.5 101.7L588.0 94.5L588.5 87.8L589.0 81.4L589.5 75.5L590.0 70.0L590.5 65.1L591.0 60.7L591.5 56.8L592.0 53.5L592.5 50.7L593.0 48.4L593.5 46.6L594.0 45.2L594.5 44.4L595.0 43.9L595.5 43.7L596.0 43.6L596.5 43.6L597.0 43.7L597.5 44.0L598.0 44.4L598.5 44.9L599.0 45.5L599.5 46.1L600.0 46.7L600.5 47.4L601.0 48.1L601.5 48.8L602.0 49.4L602.5 50.0L603.0 50.5L603.5 50.9L604.0 51.2L604.5 51.4L605.0 51.4L605.5 51.3L606.0 51.1L606.5 50.9L607.0 50.6L607.5 50.2L608.0 49.7L608.5 49.3L609.0 48.7L609.5 48.2L610.0 47.7L610.5 47.1L611.0 46.6L611.5 46.0L612.0 45.5L612.5 45.0L613.0 44.6L613.5 44.2L614.0 43.8L614.5 43.6L615.0 43.4L615.5 43.3L616.0 43.3L616.5 43.3L617.0 43.4L617.5 43.5L618.0 43.6L618.5 43.8L619.0 44.0L619.5 44.2L620.0 44.4L620.5 44.6L621.0 44.8L621.5 45.0L622.0 45.3L622.5 45.5L623.0 45.6L623.5 45.8L624.0 45.9L624.5 46.0L625.0 46.1L625.5 46.1L626.0 46.1L626.5 46.0L627.0 46.0L627.5 45.9L628.0 45.7L628.5 45.6L629.0 45.4L629.5 45.3L630.0 45.1L630.5 44.9L631.0 44.7L631.5 44.5L632.0 44.4L632.5 44.2L633.0 44.1L633.5 43.9L634.0 43.8L634.5 43.7L635.0 43.6L635.5 43.6L636.0 43.6L636.5 43.6L637.0 43.7L637.5 43.7L638.0 43.8L638.5 43.9L639.0 44.0L639.5 44.1L640.0 44.2L640.5 44.3L641.0 44.4L641.5 44.5L642.0 44.6L642.5 44.7L643.0 44.8L643.5 44.9L644.0 45.0L644.5 45.0L645.0 45.1L645.5 45.1L646.0 45.1L646.5 45.1L647.0 45.0L647.5 45.0L648.0 44.9L648.5 44.8L649.0 44.8L649.5 44.7L650.0 44.5L650.5 44.4L651.0 44.3L651.5 44.2L652.0 44.1L652.5 44.0L653.0 43.9L653.5 43.8L654.0 43.7L654.5 43.6L655.0 43.5L655.5 43.4L656.0 43.4L656.5 43.3L657.0 43.3L657.5 43.3L658.0 43.3L658.5 43.3L659.0 43.4L659.5 43.5L660.0 43.5L660.5 43.6L661.0 43.7L661.5 43.8L662.0 43.9L662.5 44.0L663.0 44.1L663.5 44.2L664.0 44.3L664.5 44.4L665.0 44.5L665.5 44.6L666.0 44.7L666.5 44.7L667.0 44.8L667.5 44.8L668.0 44.8L668.5 44.8L669.0 44.8L669.5 44.7L670.0 44.7L670.5 44.6L671.0 44.5L671.5 44.5L672.0 44.4L672.5 44.3L673.0 44.2L673.5 44.1L674.0 44.0L674.5 44.0L675.0 43.9L675.5 43.8L676.0 43.7L676.5 43.7L677.0 43.7L677.5 43.6L678.0 43.6L678.5 43.6L679.0 43.6L679.5 43.6L680.0 43.7L680.5 43.7L681.0 43.8L681.5 43.9L682.0 43.9L682.5 44.0L683.0 44.1L683.5 44.2L684.0 44.3L684.5 44.4L685.0 44.4L685.5 44.5L686.0 44.6L686.5 44.7L687.0 44.7L687.5 44.7L688.0 44.8L688.5 44.8L689.0 44.8L689.5 44.8L690.0 44.8L690.5 44.8L691.0 44.8L691.5 44.7L692.0 44.7L692.5 44.7L693.0 44.7L693.5 44.6L694.0 44.6L694.5 44.6L695.0 44.6L695.5 44.5L696.0 44.5L696.5 44.5L697.0 44.5L697.5 44.5" stroke="#f01010" stroke-width="2.1"/>
</g>
<line x1="608.7" y1="92.9" x2="637" y2="92.9" stroke="#0a0ac8" stroke-width="2.4"/>
<text x="639.5" y="96.2" class="lg">No RIA</text>
<line x1="608.7" y1="104.10000000000001" x2="637" y2="104.10000000000001" stroke="#000000" stroke-width="2.4"/>
<text x="639.5" y="107.4" class="lg">2.1 dB/km</text>
<line x1="608.7" y1="115.30000000000001" x2="637" y2="115.30000000000001" stroke="#14e0e6" stroke-width="2.4"/>
<text x="639.5" y="118.60000000000001" class="lg">2.96dB/km</text>
<line x1="608.7" y1="126.5" x2="637" y2="126.5" stroke="#00cc00" stroke-width="2.4"/>
<text x="639.5" y="129.8" class="lg">48 dB/km</text>
<line x1="608.7" y1="137.7" x2="637" y2="137.7" stroke="#f01010" stroke-width="2.4"/>
<text x="639.5" y="141.0" class="lg">50 dB/km</text>
<text x="559.25" y="277.3" text-anchor="middle" class="al">Wavelength (nm)</text>
<text transform="translate(389.4,131.7) rotate(-90)" text-anchor="middle" class="al">Transmission (Arb. unit)</text>
<text x="553" y="299.5" text-anchor="middle" class="cap">(<tspan font-weight="bold">b</tspan>)</text>
</svg>
</body></html>
